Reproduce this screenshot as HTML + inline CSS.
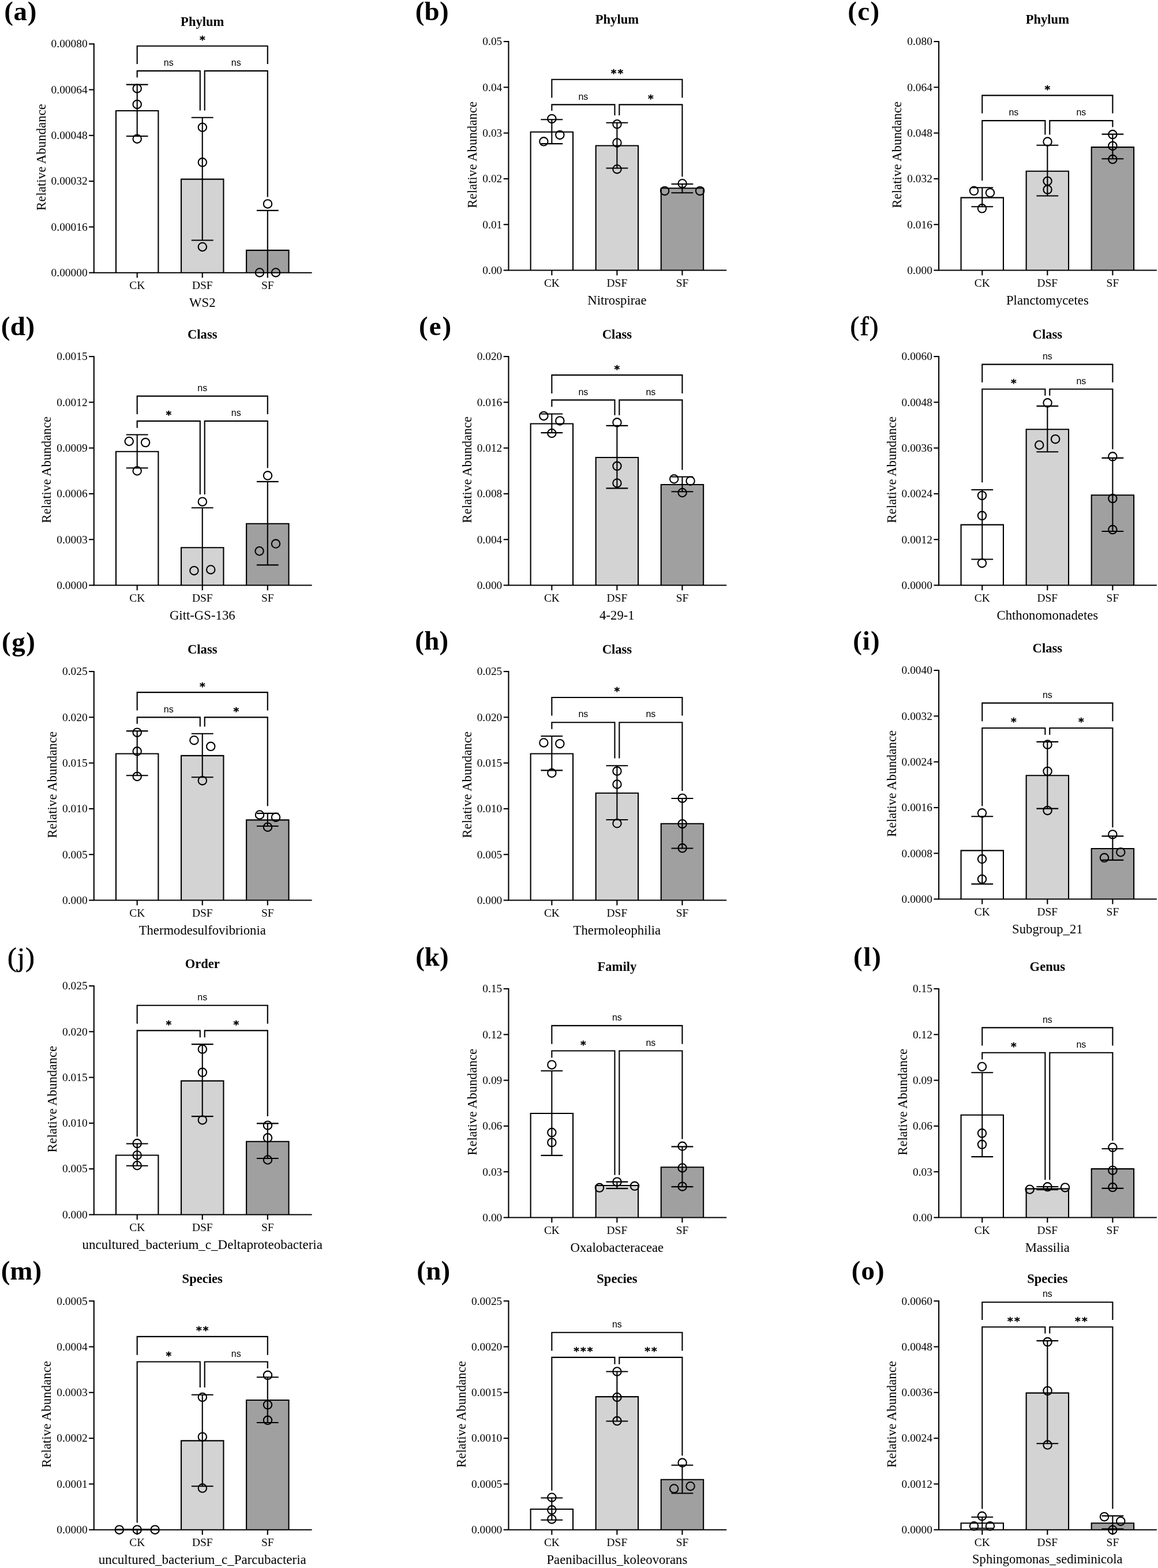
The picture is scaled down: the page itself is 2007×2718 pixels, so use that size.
<!DOCTYPE html>
<html lang="en">
<head>
<meta charset="utf-8">
<title>Relative abundance of differential taxa</title>
<style>
html,body{margin:0;padding:0;background:#fff;}
body{width:2007px;height:2718px;overflow:hidden;}
svg{display:block;}
text.s{font-family:"Liberation Serif", "Times New Roman", Times, serif;fill:#000;}
text.n{font-family:"Liberation Sans", Arial, Helvetica, sans-serif;fill:#000;}
text.st{font-family:"DejaVu Sans", "Liberation Sans", sans-serif;fill:#000;}
</style>
</head>
<body>
<svg width="2007" height="2718" viewBox="0 0 2007 2718">
<rect x="0" y="0" width="2007" height="2718" fill="#fff"/>
<g id="panel-a">
<text class="s" x="7.2" y="35" font-size="47" text-anchor="start" font-weight="bold" letter-spacing="0.7">(a)</text>
<text class="s" x="350.75" y="45" font-size="22.6" text-anchor="middle" font-weight="bold">Phylum</text>
<path d="M201 472.7V191.95H274.4V472.7" fill="#ffffff" stroke="#000" stroke-width="2.1" stroke-linejoin="miter"/>
<path d="M314.05 472.7V310.59H387.45V472.7" fill="#d3d3d3" stroke="#000" stroke-width="2.1" stroke-linejoin="miter"/>
<path d="M427.1 472.7V433.9H500.5V472.7" fill="#a0a0a0" stroke="#000" stroke-width="2.1" stroke-linejoin="miter"/>
<path d="M162.8 75.15V472.7H540.6" fill="none" stroke="#000" stroke-width="2.1" stroke-linejoin="miter"/>
<line x1="154.1" y1="472.7" x2="162.8" y2="472.7" stroke="#000" stroke-width="2.1" stroke-linecap="butt"/>
<text class="s" x="151.65" y="479" font-size="19.4" text-anchor="end">0.00000</text>
<line x1="154.1" y1="393.4" x2="162.8" y2="393.4" stroke="#000" stroke-width="2.1" stroke-linecap="butt"/>
<text class="s" x="151.65" y="400" font-size="19.4" text-anchor="end">0.00016</text>
<line x1="154.1" y1="314.1" x2="162.8" y2="314.1" stroke="#000" stroke-width="2.1" stroke-linecap="butt"/>
<text class="s" x="151.65" y="320" font-size="19.4" text-anchor="end">0.00032</text>
<line x1="154.1" y1="234.8" x2="162.8" y2="234.8" stroke="#000" stroke-width="2.1" stroke-linecap="butt"/>
<text class="s" x="151.65" y="241" font-size="19.4" text-anchor="end">0.00048</text>
<line x1="154.1" y1="155.5" x2="162.8" y2="155.5" stroke="#000" stroke-width="2.1" stroke-linecap="butt"/>
<text class="s" x="151.65" y="162" font-size="19.4" text-anchor="end">0.00064</text>
<line x1="154.1" y1="76.2" x2="162.8" y2="76.2" stroke="#000" stroke-width="2.1" stroke-linecap="butt"/>
<text class="s" x="151.65" y="82" font-size="19.4" text-anchor="end">0.00080</text>
<line x1="237.7" y1="472.7" x2="237.7" y2="481.5" stroke="#000" stroke-width="2.1" stroke-linecap="butt"/>
<text class="s" x="237.7" y="501" font-size="19.4" text-anchor="middle">CK</text>
<line x1="350.75" y1="472.7" x2="350.75" y2="481.5" stroke="#000" stroke-width="2.1" stroke-linecap="butt"/>
<text class="s" x="350.75" y="501" font-size="19.4" text-anchor="middle">DSF</text>
<line x1="463.8" y1="472.7" x2="463.8" y2="481.5" stroke="#000" stroke-width="2.1" stroke-linecap="butt"/>
<text class="s" x="463.8" y="501" font-size="19.4" text-anchor="middle">SF</text>
<text class="s" x="350.75" y="532" font-size="22.75" text-anchor="middle">WS2</text>
<text class="s" font-size="22.9" text-anchor="middle" transform="translate(78.7 272.45) rotate(-90)">Relative Abundance</text>
<line x1="237.7" y1="146.61" x2="237.7" y2="236.02" stroke="#000" stroke-width="2.1" stroke-linecap="butt"/>
<line x1="218.8" y1="146.61" x2="256.6" y2="146.61" stroke="#000" stroke-width="2.1" stroke-linecap="butt"/>
<line x1="218.8" y1="236.02" x2="256.6" y2="236.02" stroke="#000" stroke-width="2.1" stroke-linecap="butt"/>
<line x1="350.75" y1="203.81" x2="350.75" y2="416.53" stroke="#000" stroke-width="2.1" stroke-linecap="butt"/>
<line x1="331.85" y1="203.81" x2="369.65" y2="203.81" stroke="#000" stroke-width="2.1" stroke-linecap="butt"/>
<line x1="331.85" y1="416.53" x2="369.65" y2="416.53" stroke="#000" stroke-width="2.1" stroke-linecap="butt"/>
<line x1="463.8" y1="364.83" x2="463.8" y2="472.7" stroke="#000" stroke-width="2.1" stroke-linecap="butt"/>
<line x1="444.9" y1="364.83" x2="482.7" y2="364.83" stroke="#000" stroke-width="2.1" stroke-linecap="butt"/>
<circle cx="237.71" cy="153.39" r="7.2" fill="none" stroke="#000" stroke-width="2.1"/>
<circle cx="237.71" cy="180.93" r="7.2" fill="none" stroke="#000" stroke-width="2.1"/>
<circle cx="237.71" cy="240.68" r="7.2" fill="none" stroke="#000" stroke-width="2.1"/>
<circle cx="350.85" cy="220.76" r="7.2" fill="none" stroke="#000" stroke-width="2.1"/>
<circle cx="350.85" cy="281.36" r="7.2" fill="none" stroke="#000" stroke-width="2.1"/>
<circle cx="350.85" cy="427.97" r="7.2" fill="none" stroke="#000" stroke-width="2.1"/>
<circle cx="463.98" cy="353.39" r="7.2" fill="none" stroke="#000" stroke-width="2.1"/>
<circle cx="450" cy="472.46" r="7.2" fill="none" stroke="#000" stroke-width="2.1"/>
<circle cx="477.97" cy="472.46" r="7.2" fill="none" stroke="#000" stroke-width="2.1"/>
<path d="M237.7 111.02V79.79H463.8V111.02" fill="none" stroke="#000" stroke-width="2.1" stroke-linejoin="miter"/>
<path d="M237.7 134.32V122.88H346.8V191.53" fill="none" stroke="#000" stroke-width="2.1" stroke-linejoin="miter"/>
<path d="M354.7 191.53V122.88H463.8V341.53" fill="none" stroke="#000" stroke-width="2.1" stroke-linejoin="miter"/>
<text class="st" x="351.8" y="75" font-size="18.5" text-anchor="middle" font-weight="bold" stroke="#000" stroke-width="0.45" letter-spacing="2.1">*</text>
<text class="n" x="292.25" y="114" font-size="16" text-anchor="middle">ns</text>
<text class="n" x="409.25" y="114" font-size="16" text-anchor="middle">ns</text>
</g>
<g id="panel-b">
<text class="s" x="719.7" y="35" font-size="47" text-anchor="start" font-weight="bold" letter-spacing="0.2">(b)</text>
<text class="s" x="1069.4" y="41" font-size="22.6" text-anchor="middle" font-weight="bold">Phylum</text>
<path d="M919.65 468.5V228.81H993.05V468.5" fill="#ffffff" stroke="#000" stroke-width="2.1" stroke-linejoin="miter"/>
<path d="M1032.7 468.5V252.54H1106.1V468.5" fill="#d3d3d3" stroke="#000" stroke-width="2.1" stroke-linejoin="miter"/>
<path d="M1145.75 468.5V326.27H1219.15V468.5" fill="#a0a0a0" stroke="#000" stroke-width="2.1" stroke-linejoin="miter"/>
<path d="M881.45 70.95V468.5H1259.25" fill="none" stroke="#000" stroke-width="2.1" stroke-linejoin="miter"/>
<line x1="872.75" y1="468.5" x2="881.45" y2="468.5" stroke="#000" stroke-width="2.1" stroke-linecap="butt"/>
<text class="s" x="870.3" y="475" font-size="19.4" text-anchor="end">0.00</text>
<line x1="872.75" y1="389.2" x2="881.45" y2="389.2" stroke="#000" stroke-width="2.1" stroke-linecap="butt"/>
<text class="s" x="870.3" y="396" font-size="19.4" text-anchor="end">0.01</text>
<line x1="872.75" y1="309.9" x2="881.45" y2="309.9" stroke="#000" stroke-width="2.1" stroke-linecap="butt"/>
<text class="s" x="870.3" y="316" font-size="19.4" text-anchor="end">0.02</text>
<line x1="872.75" y1="230.6" x2="881.45" y2="230.6" stroke="#000" stroke-width="2.1" stroke-linecap="butt"/>
<text class="s" x="870.3" y="237" font-size="19.4" text-anchor="end">0.03</text>
<line x1="872.75" y1="151.3" x2="881.45" y2="151.3" stroke="#000" stroke-width="2.1" stroke-linecap="butt"/>
<text class="s" x="870.3" y="158" font-size="19.4" text-anchor="end">0.04</text>
<line x1="872.75" y1="72" x2="881.45" y2="72" stroke="#000" stroke-width="2.1" stroke-linecap="butt"/>
<text class="s" x="870.3" y="78" font-size="19.4" text-anchor="end">0.05</text>
<line x1="956.35" y1="468.5" x2="956.35" y2="477.3" stroke="#000" stroke-width="2.1" stroke-linecap="butt"/>
<text class="s" x="956.35" y="497" font-size="19.4" text-anchor="middle">CK</text>
<line x1="1069.4" y1="468.5" x2="1069.4" y2="477.3" stroke="#000" stroke-width="2.1" stroke-linecap="butt"/>
<text class="s" x="1069.4" y="497" font-size="19.4" text-anchor="middle">DSF</text>
<line x1="1182.45" y1="468.5" x2="1182.45" y2="477.3" stroke="#000" stroke-width="2.1" stroke-linecap="butt"/>
<text class="s" x="1182.45" y="497" font-size="19.4" text-anchor="middle">SF</text>
<text class="s" x="1069.4" y="528" font-size="22.75" text-anchor="middle">Nitrospirae</text>
<text class="s" font-size="22.9" text-anchor="middle" transform="translate(826.45 268.25) rotate(-90)">Relative Abundance</text>
<line x1="956.35" y1="207.2" x2="956.35" y2="249.15" stroke="#000" stroke-width="2.1" stroke-linecap="butt"/>
<line x1="937.45" y1="207.2" x2="975.25" y2="207.2" stroke="#000" stroke-width="2.1" stroke-linecap="butt"/>
<line x1="937.45" y1="249.15" x2="975.25" y2="249.15" stroke="#000" stroke-width="2.1" stroke-linecap="butt"/>
<line x1="1069.4" y1="212.71" x2="1069.4" y2="291.53" stroke="#000" stroke-width="2.1" stroke-linecap="butt"/>
<line x1="1050.5" y1="212.71" x2="1088.3" y2="212.71" stroke="#000" stroke-width="2.1" stroke-linecap="butt"/>
<line x1="1050.5" y1="291.53" x2="1088.3" y2="291.53" stroke="#000" stroke-width="2.1" stroke-linecap="butt"/>
<line x1="1182.45" y1="319.07" x2="1182.45" y2="334.32" stroke="#000" stroke-width="2.1" stroke-linecap="butt"/>
<line x1="1163.55" y1="319.07" x2="1201.35" y2="319.07" stroke="#000" stroke-width="2.1" stroke-linecap="butt"/>
<line x1="1163.55" y1="334.32" x2="1201.35" y2="334.32" stroke="#000" stroke-width="2.1" stroke-linecap="butt"/>
<circle cx="956.36" cy="205.93" r="7.2" fill="none" stroke="#000" stroke-width="2.1"/>
<circle cx="970.34" cy="233.9" r="7.2" fill="none" stroke="#000" stroke-width="2.1"/>
<circle cx="942.37" cy="245.34" r="7.2" fill="none" stroke="#000" stroke-width="2.1"/>
<circle cx="1069.49" cy="215.25" r="7.2" fill="none" stroke="#000" stroke-width="2.1"/>
<circle cx="1069.49" cy="247.46" r="7.2" fill="none" stroke="#000" stroke-width="2.1"/>
<circle cx="1069.49" cy="293.22" r="7.2" fill="none" stroke="#000" stroke-width="2.1"/>
<circle cx="1182.63" cy="318.22" r="7.2" fill="none" stroke="#000" stroke-width="2.1"/>
<circle cx="1152.12" cy="330.93" r="7.2" fill="none" stroke="#000" stroke-width="2.1"/>
<circle cx="1213.14" cy="330.93" r="7.2" fill="none" stroke="#000" stroke-width="2.1"/>
<path d="M956.35 169.49V137.71H1182.45V169.49" fill="none" stroke="#000" stroke-width="2.1" stroke-linejoin="miter"/>
<path d="M956.35 191.95V181.36H1065.45V200" fill="none" stroke="#000" stroke-width="2.1" stroke-linejoin="miter"/>
<path d="M1073.35 200V181.36H1182.45V306.36" fill="none" stroke="#000" stroke-width="2.1" stroke-linejoin="miter"/>
<text class="st" x="1070.45" y="133" font-size="18.5" text-anchor="middle" font-weight="bold" stroke="#000" stroke-width="0.45" letter-spacing="2.1">**</text>
<text class="n" x="1010.9" y="173" font-size="16" text-anchor="middle">ns</text>
<text class="st" x="1128.95" y="177" font-size="18.5" text-anchor="middle" font-weight="bold" stroke="#000" stroke-width="0.45" letter-spacing="2.1">*</text>
</g>
<g id="panel-c">
<text class="s" x="1469.3" y="35" font-size="47" text-anchor="start" font-weight="bold" letter-spacing="1.3">(c)</text>
<text class="s" x="1815.35" y="41" font-size="22.6" text-anchor="middle" font-weight="bold">Phylum</text>
<path d="M1665.6 468.5V342.61H1739V468.5" fill="#ffffff" stroke="#000" stroke-width="2.1" stroke-linejoin="miter"/>
<path d="M1778.65 468.5V296.68H1852.05V468.5" fill="#d3d3d3" stroke="#000" stroke-width="2.1" stroke-linejoin="miter"/>
<path d="M1891.7 468.5V255.16H1965.1V468.5" fill="#a0a0a0" stroke="#000" stroke-width="2.1" stroke-linejoin="miter"/>
<path d="M1627.1 70.95V468.5H2004.9" fill="none" stroke="#000" stroke-width="2.1" stroke-linejoin="miter"/>
<line x1="1618.4" y1="468.5" x2="1627.1" y2="468.5" stroke="#000" stroke-width="2.1" stroke-linecap="butt"/>
<text class="s" x="1615.95" y="475" font-size="19.4" text-anchor="end">0.000</text>
<line x1="1618.4" y1="389.2" x2="1627.1" y2="389.2" stroke="#000" stroke-width="2.1" stroke-linecap="butt"/>
<text class="s" x="1615.95" y="396" font-size="19.4" text-anchor="end">0.016</text>
<line x1="1618.4" y1="309.9" x2="1627.1" y2="309.9" stroke="#000" stroke-width="2.1" stroke-linecap="butt"/>
<text class="s" x="1615.95" y="316" font-size="19.4" text-anchor="end">0.032</text>
<line x1="1618.4" y1="230.6" x2="1627.1" y2="230.6" stroke="#000" stroke-width="2.1" stroke-linecap="butt"/>
<text class="s" x="1615.95" y="237" font-size="19.4" text-anchor="end">0.048</text>
<line x1="1618.4" y1="151.3" x2="1627.1" y2="151.3" stroke="#000" stroke-width="2.1" stroke-linecap="butt"/>
<text class="s" x="1615.95" y="158" font-size="19.4" text-anchor="end">0.064</text>
<line x1="1618.4" y1="72" x2="1627.1" y2="72" stroke="#000" stroke-width="2.1" stroke-linecap="butt"/>
<text class="s" x="1615.95" y="78" font-size="19.4" text-anchor="end">0.080</text>
<line x1="1702.3" y1="468.5" x2="1702.3" y2="477.3" stroke="#000" stroke-width="2.1" stroke-linecap="butt"/>
<text class="s" x="1702.3" y="497" font-size="19.4" text-anchor="middle">CK</text>
<line x1="1815.35" y1="468.5" x2="1815.35" y2="477.3" stroke="#000" stroke-width="2.1" stroke-linecap="butt"/>
<text class="s" x="1815.35" y="497" font-size="19.4" text-anchor="middle">DSF</text>
<line x1="1928.4" y1="468.5" x2="1928.4" y2="477.3" stroke="#000" stroke-width="2.1" stroke-linecap="butt"/>
<text class="s" x="1928.4" y="497" font-size="19.4" text-anchor="middle">SF</text>
<text class="s" x="1815.35" y="528" font-size="22.75" text-anchor="middle">Planctomycetes</text>
<text class="s" font-size="22.9" text-anchor="middle" transform="translate(1562.4 268.25) rotate(-90)">Relative Abundance</text>
<line x1="1702.3" y1="325.21" x2="1702.3" y2="358.28" stroke="#000" stroke-width="2.1" stroke-linecap="butt"/>
<line x1="1683.4" y1="325.21" x2="1721.2" y2="325.21" stroke="#000" stroke-width="2.1" stroke-linecap="butt"/>
<line x1="1683.4" y1="358.28" x2="1721.2" y2="358.28" stroke="#000" stroke-width="2.1" stroke-linecap="butt"/>
<line x1="1815.35" y1="251.72" x2="1815.35" y2="339.54" stroke="#000" stroke-width="2.1" stroke-linecap="butt"/>
<line x1="1796.45" y1="251.72" x2="1834.25" y2="251.72" stroke="#000" stroke-width="2.1" stroke-linecap="butt"/>
<line x1="1796.45" y1="339.54" x2="1834.25" y2="339.54" stroke="#000" stroke-width="2.1" stroke-linecap="butt"/>
<line x1="1928.4" y1="232.62" x2="1928.4" y2="275.24" stroke="#000" stroke-width="2.1" stroke-linecap="butt"/>
<line x1="1909.5" y1="232.62" x2="1947.3" y2="232.62" stroke="#000" stroke-width="2.1" stroke-linecap="butt"/>
<line x1="1909.5" y1="275.24" x2="1947.3" y2="275.24" stroke="#000" stroke-width="2.1" stroke-linecap="butt"/>
<circle cx="1688.07" cy="330.82" r="7.2" fill="none" stroke="#000" stroke-width="2.1"/>
<circle cx="1715.99" cy="334.13" r="7.2" fill="none" stroke="#000" stroke-width="2.1"/>
<circle cx="1702.03" cy="361.32" r="7.2" fill="none" stroke="#000" stroke-width="2.1"/>
<circle cx="1815.57" cy="245.58" r="7.2" fill="none" stroke="#000" stroke-width="2.1"/>
<circle cx="1815.57" cy="313.92" r="7.2" fill="none" stroke="#000" stroke-width="2.1"/>
<circle cx="1815.57" cy="328.62" r="7.2" fill="none" stroke="#000" stroke-width="2.1"/>
<circle cx="1928.37" cy="233.09" r="7.2" fill="none" stroke="#000" stroke-width="2.1"/>
<circle cx="1928.37" cy="252.93" r="7.2" fill="none" stroke="#000" stroke-width="2.1"/>
<circle cx="1928.37" cy="276.08" r="7.2" fill="none" stroke="#000" stroke-width="2.1"/>
<path d="M1702.3 196.58V165.35H1928.4V196.58" fill="none" stroke="#000" stroke-width="2.1" stroke-linejoin="miter"/>
<path d="M1702.3 313.12V209.13H1811.4V233.39" fill="none" stroke="#000" stroke-width="2.1" stroke-linejoin="miter"/>
<path d="M1819.3 233.39V209.13H1928.4V220.16" fill="none" stroke="#000" stroke-width="2.1" stroke-linejoin="miter"/>
<text class="st" x="1816.4" y="161" font-size="18.5" text-anchor="middle" font-weight="bold" stroke="#000" stroke-width="0.45" letter-spacing="2.1">*</text>
<text class="n" x="1756.85" y="200" font-size="16" text-anchor="middle">ns</text>
<text class="n" x="1873.85" y="200" font-size="16" text-anchor="middle">ns</text>
</g>
<g id="panel-d">
<text class="s" x="1.7" y="581" font-size="47" text-anchor="start" font-weight="bold" letter-spacing="0.5">(d)</text>
<text class="s" x="350.75" y="587" font-size="22.6" text-anchor="middle" font-weight="bold">Class</text>
<path d="M201 1014.5V782.8H274.4V1014.5" fill="#ffffff" stroke="#000" stroke-width="2.1" stroke-linejoin="miter"/>
<path d="M314.05 1014.5V949.32H387.45V1014.5" fill="#d3d3d3" stroke="#000" stroke-width="2.1" stroke-linejoin="miter"/>
<path d="M427.1 1014.5V907.8H500.5V1014.5" fill="#a0a0a0" stroke="#000" stroke-width="2.1" stroke-linejoin="miter"/>
<path d="M162.8 616.95V1014.5H540.6" fill="none" stroke="#000" stroke-width="2.1" stroke-linejoin="miter"/>
<line x1="154.1" y1="1014.5" x2="162.8" y2="1014.5" stroke="#000" stroke-width="2.1" stroke-linecap="butt"/>
<text class="s" x="151.65" y="1021" font-size="19.4" text-anchor="end">0.0000</text>
<line x1="154.1" y1="935.2" x2="162.8" y2="935.2" stroke="#000" stroke-width="2.1" stroke-linecap="butt"/>
<text class="s" x="151.65" y="942" font-size="19.4" text-anchor="end">0.0003</text>
<line x1="154.1" y1="855.9" x2="162.8" y2="855.9" stroke="#000" stroke-width="2.1" stroke-linecap="butt"/>
<text class="s" x="151.65" y="862" font-size="19.4" text-anchor="end">0.0006</text>
<line x1="154.1" y1="776.6" x2="162.8" y2="776.6" stroke="#000" stroke-width="2.1" stroke-linecap="butt"/>
<text class="s" x="151.65" y="783" font-size="19.4" text-anchor="end">0.0009</text>
<line x1="154.1" y1="697.3" x2="162.8" y2="697.3" stroke="#000" stroke-width="2.1" stroke-linecap="butt"/>
<text class="s" x="151.65" y="704" font-size="19.4" text-anchor="end">0.0012</text>
<line x1="154.1" y1="618" x2="162.8" y2="618" stroke="#000" stroke-width="2.1" stroke-linecap="butt"/>
<text class="s" x="151.65" y="624" font-size="19.4" text-anchor="end">0.0015</text>
<line x1="237.7" y1="1014.5" x2="237.7" y2="1023.3" stroke="#000" stroke-width="2.1" stroke-linecap="butt"/>
<text class="s" x="237.7" y="1043" font-size="19.4" text-anchor="middle">CK</text>
<line x1="350.75" y1="1014.5" x2="350.75" y2="1023.3" stroke="#000" stroke-width="2.1" stroke-linecap="butt"/>
<text class="s" x="350.75" y="1043" font-size="19.4" text-anchor="middle">DSF</text>
<line x1="463.8" y1="1014.5" x2="463.8" y2="1023.3" stroke="#000" stroke-width="2.1" stroke-linecap="butt"/>
<text class="s" x="463.8" y="1043" font-size="19.4" text-anchor="middle">SF</text>
<text class="s" x="350.75" y="1074" font-size="22.75" text-anchor="middle">Gitt-GS-136</text>
<text class="s" font-size="22.9" text-anchor="middle" transform="translate(88.4 814.25) rotate(-90)">Relative Abundance</text>
<line x1="237.7" y1="753.56" x2="237.7" y2="811.19" stroke="#000" stroke-width="2.1" stroke-linecap="butt"/>
<line x1="218.8" y1="753.56" x2="256.6" y2="753.56" stroke="#000" stroke-width="2.1" stroke-linecap="butt"/>
<line x1="218.8" y1="811.19" x2="256.6" y2="811.19" stroke="#000" stroke-width="2.1" stroke-linecap="butt"/>
<line x1="350.75" y1="880.25" x2="350.75" y2="1014.5" stroke="#000" stroke-width="2.1" stroke-linecap="butt"/>
<line x1="331.85" y1="880.25" x2="369.65" y2="880.25" stroke="#000" stroke-width="2.1" stroke-linecap="butt"/>
<line x1="463.8" y1="834.92" x2="463.8" y2="979.41" stroke="#000" stroke-width="2.1" stroke-linecap="butt"/>
<line x1="444.9" y1="834.92" x2="482.7" y2="834.92" stroke="#000" stroke-width="2.1" stroke-linecap="butt"/>
<line x1="444.9" y1="979.41" x2="482.7" y2="979.41" stroke="#000" stroke-width="2.1" stroke-linecap="butt"/>
<circle cx="223.73" cy="765" r="7.2" fill="none" stroke="#000" stroke-width="2.1"/>
<circle cx="252.12" cy="767.12" r="7.2" fill="none" stroke="#000" stroke-width="2.1"/>
<circle cx="237.71" cy="816.27" r="7.2" fill="none" stroke="#000" stroke-width="2.1"/>
<circle cx="350.85" cy="869.66" r="7.2" fill="none" stroke="#000" stroke-width="2.1"/>
<circle cx="336.44" cy="989.15" r="7.2" fill="none" stroke="#000" stroke-width="2.1"/>
<circle cx="365.25" cy="987.46" r="7.2" fill="none" stroke="#000" stroke-width="2.1"/>
<circle cx="463.98" cy="824.32" r="7.2" fill="none" stroke="#000" stroke-width="2.1"/>
<circle cx="477.97" cy="942.54" r="7.2" fill="none" stroke="#000" stroke-width="2.1"/>
<circle cx="449.58" cy="955.25" r="7.2" fill="none" stroke="#000" stroke-width="2.1"/>
<path d="M237.7 717.97V686.61H463.8V717.97" fill="none" stroke="#000" stroke-width="2.1" stroke-linejoin="miter"/>
<path d="M237.7 741.69V729.83H346.8V856.95" fill="none" stroke="#000" stroke-width="2.1" stroke-linejoin="miter"/>
<path d="M354.7 856.95V729.83H463.8V811.19" fill="none" stroke="#000" stroke-width="2.1" stroke-linejoin="miter"/>
<text class="n" x="350.75" y="678" font-size="16" text-anchor="middle">ns</text>
<text class="st" x="293.3" y="725" font-size="18.5" text-anchor="middle" font-weight="bold" stroke="#000" stroke-width="0.45" letter-spacing="2.1">*</text>
<text class="n" x="409.25" y="721" font-size="16" text-anchor="middle">ns</text>
</g>
<g id="panel-e">
<text class="s" x="726.1" y="581" font-size="47" text-anchor="start" font-weight="bold" letter-spacing="2">(e)</text>
<text class="s" x="1069.4" y="587" font-size="22.6" text-anchor="middle" font-weight="bold">Class</text>
<path d="M919.65 1014.5V734.49H993.05V1014.5" fill="#ffffff" stroke="#000" stroke-width="2.1" stroke-linejoin="miter"/>
<path d="M1032.7 1014.5V792.97H1106.1V1014.5" fill="#d3d3d3" stroke="#000" stroke-width="2.1" stroke-linejoin="miter"/>
<path d="M1145.75 1014.5V840H1219.15V1014.5" fill="#a0a0a0" stroke="#000" stroke-width="2.1" stroke-linejoin="miter"/>
<path d="M881.45 616.95V1014.5H1259.25" fill="none" stroke="#000" stroke-width="2.1" stroke-linejoin="miter"/>
<line x1="872.75" y1="1014.5" x2="881.45" y2="1014.5" stroke="#000" stroke-width="2.1" stroke-linecap="butt"/>
<text class="s" x="870.3" y="1021" font-size="19.4" text-anchor="end">0.000</text>
<line x1="872.75" y1="935.2" x2="881.45" y2="935.2" stroke="#000" stroke-width="2.1" stroke-linecap="butt"/>
<text class="s" x="870.3" y="942" font-size="19.4" text-anchor="end">0.004</text>
<line x1="872.75" y1="855.9" x2="881.45" y2="855.9" stroke="#000" stroke-width="2.1" stroke-linecap="butt"/>
<text class="s" x="870.3" y="862" font-size="19.4" text-anchor="end">0.008</text>
<line x1="872.75" y1="776.6" x2="881.45" y2="776.6" stroke="#000" stroke-width="2.1" stroke-linecap="butt"/>
<text class="s" x="870.3" y="783" font-size="19.4" text-anchor="end">0.012</text>
<line x1="872.75" y1="697.3" x2="881.45" y2="697.3" stroke="#000" stroke-width="2.1" stroke-linecap="butt"/>
<text class="s" x="870.3" y="704" font-size="19.4" text-anchor="end">0.016</text>
<line x1="872.75" y1="618" x2="881.45" y2="618" stroke="#000" stroke-width="2.1" stroke-linecap="butt"/>
<text class="s" x="870.3" y="624" font-size="19.4" text-anchor="end">0.020</text>
<line x1="956.35" y1="1014.5" x2="956.35" y2="1023.3" stroke="#000" stroke-width="2.1" stroke-linecap="butt"/>
<text class="s" x="956.35" y="1043" font-size="19.4" text-anchor="middle">CK</text>
<line x1="1069.4" y1="1014.5" x2="1069.4" y2="1023.3" stroke="#000" stroke-width="2.1" stroke-linecap="butt"/>
<text class="s" x="1069.4" y="1043" font-size="19.4" text-anchor="middle">DSF</text>
<line x1="1182.45" y1="1014.5" x2="1182.45" y2="1023.3" stroke="#000" stroke-width="2.1" stroke-linecap="butt"/>
<text class="s" x="1182.45" y="1043" font-size="19.4" text-anchor="middle">SF</text>
<text class="s" x="1069.4" y="1074" font-size="22.75" text-anchor="middle">4-29-1</text>
<text class="s" font-size="22.9" text-anchor="middle" transform="translate(816.75 814.25) rotate(-90)">Relative Abundance</text>
<line x1="956.35" y1="717.54" x2="956.35" y2="750.17" stroke="#000" stroke-width="2.1" stroke-linecap="butt"/>
<line x1="937.45" y1="717.54" x2="975.25" y2="717.54" stroke="#000" stroke-width="2.1" stroke-linecap="butt"/>
<line x1="937.45" y1="750.17" x2="975.25" y2="750.17" stroke="#000" stroke-width="2.1" stroke-linecap="butt"/>
<line x1="1069.4" y1="737.88" x2="1069.4" y2="846.36" stroke="#000" stroke-width="2.1" stroke-linecap="butt"/>
<line x1="1050.5" y1="737.88" x2="1088.3" y2="737.88" stroke="#000" stroke-width="2.1" stroke-linecap="butt"/>
<line x1="1050.5" y1="846.36" x2="1088.3" y2="846.36" stroke="#000" stroke-width="2.1" stroke-linecap="butt"/>
<line x1="1182.45" y1="826.44" x2="1182.45" y2="852.29" stroke="#000" stroke-width="2.1" stroke-linecap="butt"/>
<line x1="1163.55" y1="826.44" x2="1201.35" y2="826.44" stroke="#000" stroke-width="2.1" stroke-linecap="butt"/>
<line x1="1163.55" y1="852.29" x2="1201.35" y2="852.29" stroke="#000" stroke-width="2.1" stroke-linecap="butt"/>
<circle cx="942.37" cy="720.93" r="7.2" fill="none" stroke="#000" stroke-width="2.1"/>
<circle cx="970.34" cy="729.41" r="7.2" fill="none" stroke="#000" stroke-width="2.1"/>
<circle cx="956.36" cy="751.02" r="7.2" fill="none" stroke="#000" stroke-width="2.1"/>
<circle cx="1069.49" cy="732.37" r="7.2" fill="none" stroke="#000" stroke-width="2.1"/>
<circle cx="1069.49" cy="807.8" r="7.2" fill="none" stroke="#000" stroke-width="2.1"/>
<circle cx="1069.49" cy="837.46" r="7.2" fill="none" stroke="#000" stroke-width="2.1"/>
<circle cx="1168.22" cy="830.25" r="7.2" fill="none" stroke="#000" stroke-width="2.1"/>
<circle cx="1196.61" cy="833.64" r="7.2" fill="none" stroke="#000" stroke-width="2.1"/>
<circle cx="1182.63" cy="853.98" r="7.2" fill="none" stroke="#000" stroke-width="2.1"/>
<path d="M956.35 681.95V650.17H1182.45V681.95" fill="none" stroke="#000" stroke-width="2.1" stroke-linejoin="miter"/>
<path d="M956.35 705.25V693.39H1065.45V719.66" fill="none" stroke="#000" stroke-width="2.1" stroke-linejoin="miter"/>
<path d="M1073.35 719.66V693.39H1182.45V814.58" fill="none" stroke="#000" stroke-width="2.1" stroke-linejoin="miter"/>
<text class="st" x="1070.45" y="646" font-size="18.5" text-anchor="middle" font-weight="bold" stroke="#000" stroke-width="0.45" letter-spacing="2.1">*</text>
<text class="n" x="1010.9" y="685" font-size="16" text-anchor="middle">ns</text>
<text class="n" x="1127.9" y="685" font-size="16" text-anchor="middle">ns</text>
</g>
<g id="panel-f">
<text class="s" x="1473.6" y="581" font-size="47" text-anchor="start" letter-spacing="0.9" stroke="#000" stroke-width="0.7">(f)</text>
<text class="s" x="1815.35" y="587" font-size="22.6" text-anchor="middle" font-weight="bold">Class</text>
<path d="M1665.6 1014.5V909.64H1739V1014.5" fill="#ffffff" stroke="#000" stroke-width="2.1" stroke-linejoin="miter"/>
<path d="M1778.65 1014.5V744.29H1852.05V1014.5" fill="#d3d3d3" stroke="#000" stroke-width="2.1" stroke-linejoin="miter"/>
<path d="M1891.7 1014.5V858.2H1965.1V1014.5" fill="#a0a0a0" stroke="#000" stroke-width="2.1" stroke-linejoin="miter"/>
<path d="M1627.1 616.95V1014.5H2004.9" fill="none" stroke="#000" stroke-width="2.1" stroke-linejoin="miter"/>
<line x1="1618.4" y1="1014.5" x2="1627.1" y2="1014.5" stroke="#000" stroke-width="2.1" stroke-linecap="butt"/>
<text class="s" x="1615.95" y="1021" font-size="19.4" text-anchor="end">0.0000</text>
<line x1="1618.4" y1="935.2" x2="1627.1" y2="935.2" stroke="#000" stroke-width="2.1" stroke-linecap="butt"/>
<text class="s" x="1615.95" y="942" font-size="19.4" text-anchor="end">0.0012</text>
<line x1="1618.4" y1="855.9" x2="1627.1" y2="855.9" stroke="#000" stroke-width="2.1" stroke-linecap="butt"/>
<text class="s" x="1615.95" y="862" font-size="19.4" text-anchor="end">0.0024</text>
<line x1="1618.4" y1="776.6" x2="1627.1" y2="776.6" stroke="#000" stroke-width="2.1" stroke-linecap="butt"/>
<text class="s" x="1615.95" y="783" font-size="19.4" text-anchor="end">0.0036</text>
<line x1="1618.4" y1="697.3" x2="1627.1" y2="697.3" stroke="#000" stroke-width="2.1" stroke-linecap="butt"/>
<text class="s" x="1615.95" y="704" font-size="19.4" text-anchor="end">0.0048</text>
<line x1="1618.4" y1="618" x2="1627.1" y2="618" stroke="#000" stroke-width="2.1" stroke-linecap="butt"/>
<text class="s" x="1615.95" y="624" font-size="19.4" text-anchor="end">0.0060</text>
<line x1="1702.3" y1="1014.5" x2="1702.3" y2="1023.3" stroke="#000" stroke-width="2.1" stroke-linecap="butt"/>
<text class="s" x="1702.3" y="1043" font-size="19.4" text-anchor="middle">CK</text>
<line x1="1815.35" y1="1014.5" x2="1815.35" y2="1023.3" stroke="#000" stroke-width="2.1" stroke-linecap="butt"/>
<text class="s" x="1815.35" y="1043" font-size="19.4" text-anchor="middle">DSF</text>
<line x1="1928.4" y1="1014.5" x2="1928.4" y2="1023.3" stroke="#000" stroke-width="2.1" stroke-linecap="butt"/>
<text class="s" x="1928.4" y="1043" font-size="19.4" text-anchor="middle">SF</text>
<text class="s" x="1815.35" y="1074" font-size="22.75" text-anchor="middle">Chthonomonadetes</text>
<text class="s" font-size="22.9" text-anchor="middle" transform="translate(1552.7 814.25) rotate(-90)">Relative Abundance</text>
<line x1="1702.3" y1="849.01" x2="1702.3" y2="969.53" stroke="#000" stroke-width="2.1" stroke-linecap="butt"/>
<line x1="1683.4" y1="849.01" x2="1721.2" y2="849.01" stroke="#000" stroke-width="2.1" stroke-linecap="butt"/>
<line x1="1683.4" y1="969.53" x2="1721.2" y2="969.53" stroke="#000" stroke-width="2.1" stroke-linecap="butt"/>
<line x1="1815.35" y1="703.88" x2="1815.35" y2="783.24" stroke="#000" stroke-width="2.1" stroke-linecap="butt"/>
<line x1="1796.45" y1="703.88" x2="1834.25" y2="703.88" stroke="#000" stroke-width="2.1" stroke-linecap="butt"/>
<line x1="1796.45" y1="783.24" x2="1834.25" y2="783.24" stroke="#000" stroke-width="2.1" stroke-linecap="butt"/>
<line x1="1928.4" y1="793.9" x2="1928.4" y2="921.03" stroke="#000" stroke-width="2.1" stroke-linecap="butt"/>
<line x1="1909.5" y1="793.9" x2="1947.3" y2="793.9" stroke="#000" stroke-width="2.1" stroke-linecap="butt"/>
<line x1="1909.5" y1="921.03" x2="1947.3" y2="921.03" stroke="#000" stroke-width="2.1" stroke-linecap="butt"/>
<circle cx="1702.03" cy="858.93" r="7.2" fill="none" stroke="#000" stroke-width="2.1"/>
<circle cx="1702.03" cy="893.84" r="7.2" fill="none" stroke="#000" stroke-width="2.1"/>
<circle cx="1702.03" cy="976.14" r="7.2" fill="none" stroke="#000" stroke-width="2.1"/>
<circle cx="1815.57" cy="698.36" r="7.2" fill="none" stroke="#000" stroke-width="2.1"/>
<circle cx="1829.16" cy="761.19" r="7.2" fill="none" stroke="#000" stroke-width="2.1"/>
<circle cx="1801.24" cy="771.48" r="7.2" fill="none" stroke="#000" stroke-width="2.1"/>
<circle cx="1928.37" cy="791.32" r="7.2" fill="none" stroke="#000" stroke-width="2.1"/>
<circle cx="1928.37" cy="864.08" r="7.2" fill="none" stroke="#000" stroke-width="2.1"/>
<circle cx="1928.37" cy="918.09" r="7.2" fill="none" stroke="#000" stroke-width="2.1"/>
<path d="M1702.3 662.79V631.59H1928.4V662.79" fill="none" stroke="#000" stroke-width="2.1" stroke-linejoin="miter"/>
<path d="M1702.3 836.15V674.48H1811.4V685.87" fill="none" stroke="#000" stroke-width="2.1" stroke-linejoin="miter"/>
<path d="M1819.3 685.87V674.48H1928.4V778.83" fill="none" stroke="#000" stroke-width="2.1" stroke-linejoin="miter"/>
<text class="n" x="1815.35" y="623" font-size="16" text-anchor="middle">ns</text>
<text class="st" x="1757.9" y="670" font-size="18.5" text-anchor="middle" font-weight="bold" stroke="#000" stroke-width="0.45" letter-spacing="2.1">*</text>
<text class="n" x="1873.85" y="666" font-size="16" text-anchor="middle">ns</text>
</g>
<g id="panel-g">
<text class="s" x="3" y="1128" font-size="47" text-anchor="start" font-weight="bold" letter-spacing="1.5">(g)</text>
<text class="s" x="350.75" y="1133" font-size="22.6" text-anchor="middle" font-weight="bold">Class</text>
<path d="M201 1560.5V1306.53H274.4V1560.5" fill="#ffffff" stroke="#000" stroke-width="2.1" stroke-linejoin="miter"/>
<path d="M314.05 1560.5V1309.92H387.45V1560.5" fill="#d3d3d3" stroke="#000" stroke-width="2.1" stroke-linejoin="miter"/>
<path d="M427.1 1560.5V1421.36H500.5V1560.5" fill="#a0a0a0" stroke="#000" stroke-width="2.1" stroke-linejoin="miter"/>
<path d="M162.8 1162.95V1560.5H540.6" fill="none" stroke="#000" stroke-width="2.1" stroke-linejoin="miter"/>
<line x1="154.1" y1="1560.5" x2="162.8" y2="1560.5" stroke="#000" stroke-width="2.1" stroke-linecap="butt"/>
<text class="s" x="151.65" y="1567" font-size="19.4" text-anchor="end">0.000</text>
<line x1="154.1" y1="1481.2" x2="162.8" y2="1481.2" stroke="#000" stroke-width="2.1" stroke-linecap="butt"/>
<text class="s" x="151.65" y="1488" font-size="19.4" text-anchor="end">0.005</text>
<line x1="154.1" y1="1401.9" x2="162.8" y2="1401.9" stroke="#000" stroke-width="2.1" stroke-linecap="butt"/>
<text class="s" x="151.65" y="1408" font-size="19.4" text-anchor="end">0.010</text>
<line x1="154.1" y1="1322.6" x2="162.8" y2="1322.6" stroke="#000" stroke-width="2.1" stroke-linecap="butt"/>
<text class="s" x="151.65" y="1329" font-size="19.4" text-anchor="end">0.015</text>
<line x1="154.1" y1="1243.3" x2="162.8" y2="1243.3" stroke="#000" stroke-width="2.1" stroke-linecap="butt"/>
<text class="s" x="151.65" y="1250" font-size="19.4" text-anchor="end">0.020</text>
<line x1="154.1" y1="1164" x2="162.8" y2="1164" stroke="#000" stroke-width="2.1" stroke-linecap="butt"/>
<text class="s" x="151.65" y="1170" font-size="19.4" text-anchor="end">0.025</text>
<line x1="237.7" y1="1560.5" x2="237.7" y2="1569.3" stroke="#000" stroke-width="2.1" stroke-linecap="butt"/>
<text class="s" x="237.7" y="1589" font-size="19.4" text-anchor="middle">CK</text>
<line x1="350.75" y1="1560.5" x2="350.75" y2="1569.3" stroke="#000" stroke-width="2.1" stroke-linecap="butt"/>
<text class="s" x="350.75" y="1589" font-size="19.4" text-anchor="middle">DSF</text>
<line x1="463.8" y1="1560.5" x2="463.8" y2="1569.3" stroke="#000" stroke-width="2.1" stroke-linecap="butt"/>
<text class="s" x="463.8" y="1589" font-size="19.4" text-anchor="middle">SF</text>
<text class="s" x="350.75" y="1620" font-size="22.65" text-anchor="middle">Thermodesulfovibrionia</text>
<text class="s" font-size="22.9" text-anchor="middle" transform="translate(98.1 1360.25) rotate(-90)">Relative Abundance</text>
<line x1="237.7" y1="1267.12" x2="237.7" y2="1344.24" stroke="#000" stroke-width="2.1" stroke-linecap="butt"/>
<line x1="218.8" y1="1267.12" x2="256.6" y2="1267.12" stroke="#000" stroke-width="2.1" stroke-linecap="butt"/>
<line x1="218.8" y1="1344.24" x2="256.6" y2="1344.24" stroke="#000" stroke-width="2.1" stroke-linecap="butt"/>
<line x1="350.75" y1="1271.78" x2="350.75" y2="1347.2" stroke="#000" stroke-width="2.1" stroke-linecap="butt"/>
<line x1="331.85" y1="1271.78" x2="369.65" y2="1271.78" stroke="#000" stroke-width="2.1" stroke-linecap="butt"/>
<line x1="331.85" y1="1347.2" x2="369.65" y2="1347.2" stroke="#000" stroke-width="2.1" stroke-linecap="butt"/>
<line x1="463.8" y1="1409.92" x2="463.8" y2="1431.95" stroke="#000" stroke-width="2.1" stroke-linecap="butt"/>
<line x1="444.9" y1="1409.92" x2="482.7" y2="1409.92" stroke="#000" stroke-width="2.1" stroke-linecap="butt"/>
<line x1="444.9" y1="1431.95" x2="482.7" y2="1431.95" stroke="#000" stroke-width="2.1" stroke-linecap="butt"/>
<circle cx="237.71" cy="1269.66" r="7.2" fill="none" stroke="#000" stroke-width="2.1"/>
<circle cx="237.71" cy="1302.29" r="7.2" fill="none" stroke="#000" stroke-width="2.1"/>
<circle cx="237.71" cy="1345.93" r="7.2" fill="none" stroke="#000" stroke-width="2.1"/>
<circle cx="336.44" cy="1283.22" r="7.2" fill="none" stroke="#000" stroke-width="2.1"/>
<circle cx="365.25" cy="1293.81" r="7.2" fill="none" stroke="#000" stroke-width="2.1"/>
<circle cx="350.85" cy="1353.14" r="7.2" fill="none" stroke="#000" stroke-width="2.1"/>
<circle cx="450" cy="1412.46" r="7.2" fill="none" stroke="#000" stroke-width="2.1"/>
<circle cx="477.97" cy="1416.69" r="7.2" fill="none" stroke="#000" stroke-width="2.1"/>
<circle cx="463.98" cy="1433.64" r="7.2" fill="none" stroke="#000" stroke-width="2.1"/>
<path d="M237.7 1231.53V1200.17H463.8V1231.53" fill="none" stroke="#000" stroke-width="2.1" stroke-linejoin="miter"/>
<path d="M237.7 1254.83V1243.39H346.8V1259.49" fill="none" stroke="#000" stroke-width="2.1" stroke-linejoin="miter"/>
<path d="M354.7 1259.49V1243.39H463.8V1397.2" fill="none" stroke="#000" stroke-width="2.1" stroke-linejoin="miter"/>
<text class="st" x="351.8" y="1196" font-size="18.5" text-anchor="middle" font-weight="bold" stroke="#000" stroke-width="0.45" letter-spacing="2.1">*</text>
<text class="n" x="292.25" y="1235" font-size="16" text-anchor="middle">ns</text>
<text class="st" x="410.3" y="1239" font-size="18.5" text-anchor="middle" font-weight="bold" stroke="#000" stroke-width="0.45" letter-spacing="2.1">*</text>
</g>
<g id="panel-h">
<text class="s" x="719.3" y="1126" font-size="47" text-anchor="start" font-weight="bold" letter-spacing="0.2">(h)</text>
<text class="s" x="1069.4" y="1133" font-size="22.6" text-anchor="middle" font-weight="bold">Class</text>
<path d="M919.65 1560.5V1306.53H993.05V1560.5" fill="#ffffff" stroke="#000" stroke-width="2.1" stroke-linejoin="miter"/>
<path d="M1032.7 1560.5V1374.75H1106.1V1560.5" fill="#d3d3d3" stroke="#000" stroke-width="2.1" stroke-linejoin="miter"/>
<path d="M1145.75 1560.5V1427.71H1219.15V1560.5" fill="#a0a0a0" stroke="#000" stroke-width="2.1" stroke-linejoin="miter"/>
<path d="M881.45 1162.95V1560.5H1259.25" fill="none" stroke="#000" stroke-width="2.1" stroke-linejoin="miter"/>
<line x1="872.75" y1="1560.5" x2="881.45" y2="1560.5" stroke="#000" stroke-width="2.1" stroke-linecap="butt"/>
<text class="s" x="870.3" y="1567" font-size="19.4" text-anchor="end">0.000</text>
<line x1="872.75" y1="1481.2" x2="881.45" y2="1481.2" stroke="#000" stroke-width="2.1" stroke-linecap="butt"/>
<text class="s" x="870.3" y="1488" font-size="19.4" text-anchor="end">0.005</text>
<line x1="872.75" y1="1401.9" x2="881.45" y2="1401.9" stroke="#000" stroke-width="2.1" stroke-linecap="butt"/>
<text class="s" x="870.3" y="1408" font-size="19.4" text-anchor="end">0.010</text>
<line x1="872.75" y1="1322.6" x2="881.45" y2="1322.6" stroke="#000" stroke-width="2.1" stroke-linecap="butt"/>
<text class="s" x="870.3" y="1329" font-size="19.4" text-anchor="end">0.015</text>
<line x1="872.75" y1="1243.3" x2="881.45" y2="1243.3" stroke="#000" stroke-width="2.1" stroke-linecap="butt"/>
<text class="s" x="870.3" y="1250" font-size="19.4" text-anchor="end">0.020</text>
<line x1="872.75" y1="1164" x2="881.45" y2="1164" stroke="#000" stroke-width="2.1" stroke-linecap="butt"/>
<text class="s" x="870.3" y="1170" font-size="19.4" text-anchor="end">0.025</text>
<line x1="956.35" y1="1560.5" x2="956.35" y2="1569.3" stroke="#000" stroke-width="2.1" stroke-linecap="butt"/>
<text class="s" x="956.35" y="1589" font-size="19.4" text-anchor="middle">CK</text>
<line x1="1069.4" y1="1560.5" x2="1069.4" y2="1569.3" stroke="#000" stroke-width="2.1" stroke-linecap="butt"/>
<text class="s" x="1069.4" y="1589" font-size="19.4" text-anchor="middle">DSF</text>
<line x1="1182.45" y1="1560.5" x2="1182.45" y2="1569.3" stroke="#000" stroke-width="2.1" stroke-linecap="butt"/>
<text class="s" x="1182.45" y="1589" font-size="19.4" text-anchor="middle">SF</text>
<text class="s" x="1069.4" y="1620" font-size="22.75" text-anchor="middle">Thermoleophilia</text>
<text class="s" font-size="22.9" text-anchor="middle" transform="translate(816.75 1360.25) rotate(-90)">Relative Abundance</text>
<line x1="956.35" y1="1276.02" x2="956.35" y2="1335.34" stroke="#000" stroke-width="2.1" stroke-linecap="butt"/>
<line x1="937.45" y1="1276.02" x2="975.25" y2="1276.02" stroke="#000" stroke-width="2.1" stroke-linecap="butt"/>
<line x1="937.45" y1="1335.34" x2="975.25" y2="1335.34" stroke="#000" stroke-width="2.1" stroke-linecap="butt"/>
<line x1="1069.4" y1="1327.29" x2="1069.4" y2="1420.93" stroke="#000" stroke-width="2.1" stroke-linecap="butt"/>
<line x1="1050.5" y1="1327.29" x2="1088.3" y2="1327.29" stroke="#000" stroke-width="2.1" stroke-linecap="butt"/>
<line x1="1050.5" y1="1420.93" x2="1088.3" y2="1420.93" stroke="#000" stroke-width="2.1" stroke-linecap="butt"/>
<line x1="1182.45" y1="1384.07" x2="1182.45" y2="1470.51" stroke="#000" stroke-width="2.1" stroke-linecap="butt"/>
<line x1="1163.55" y1="1384.07" x2="1201.35" y2="1384.07" stroke="#000" stroke-width="2.1" stroke-linecap="butt"/>
<line x1="1163.55" y1="1470.51" x2="1201.35" y2="1470.51" stroke="#000" stroke-width="2.1" stroke-linecap="butt"/>
<circle cx="942.37" cy="1287.46" r="7.2" fill="none" stroke="#000" stroke-width="2.1"/>
<circle cx="970.34" cy="1289.15" r="7.2" fill="none" stroke="#000" stroke-width="2.1"/>
<circle cx="956.36" cy="1340" r="7.2" fill="none" stroke="#000" stroke-width="2.1"/>
<circle cx="1069.49" cy="1336.61" r="7.2" fill="none" stroke="#000" stroke-width="2.1"/>
<circle cx="1069.49" cy="1359.49" r="7.2" fill="none" stroke="#000" stroke-width="2.1"/>
<circle cx="1069.49" cy="1427.29" r="7.2" fill="none" stroke="#000" stroke-width="2.1"/>
<circle cx="1182.63" cy="1383.64" r="7.2" fill="none" stroke="#000" stroke-width="2.1"/>
<circle cx="1182.63" cy="1428.14" r="7.2" fill="none" stroke="#000" stroke-width="2.1"/>
<circle cx="1182.63" cy="1470.08" r="7.2" fill="none" stroke="#000" stroke-width="2.1"/>
<path d="M956.35 1240.42V1209.07H1182.45V1240.42" fill="none" stroke="#000" stroke-width="2.1" stroke-linejoin="miter"/>
<path d="M956.35 1263.73V1252.29H1065.45V1314.58" fill="none" stroke="#000" stroke-width="2.1" stroke-linejoin="miter"/>
<path d="M1073.35 1314.58V1252.29H1182.45V1370.93" fill="none" stroke="#000" stroke-width="2.1" stroke-linejoin="miter"/>
<text class="st" x="1070.45" y="1204" font-size="18.5" text-anchor="middle" font-weight="bold" stroke="#000" stroke-width="0.45" letter-spacing="2.1">*</text>
<text class="n" x="1010.9" y="1243" font-size="16" text-anchor="middle">ns</text>
<text class="n" x="1127.9" y="1243" font-size="16" text-anchor="middle">ns</text>
</g>
<g id="panel-i">
<text class="s" x="1478.2" y="1126" font-size="47" text-anchor="start" font-weight="bold" letter-spacing="1">(i)</text>
<text class="s" x="1815.35" y="1131" font-size="22.6" text-anchor="middle" font-weight="bold">Class</text>
<path d="M1665.6 1558.5V1474.34H1739V1558.5" fill="#ffffff" stroke="#000" stroke-width="2.1" stroke-linejoin="miter"/>
<path d="M1778.65 1558.5V1344.26H1852.05V1558.5" fill="#d3d3d3" stroke="#000" stroke-width="2.1" stroke-linejoin="miter"/>
<path d="M1891.7 1558.5V1471.03H1965.1V1558.5" fill="#a0a0a0" stroke="#000" stroke-width="2.1" stroke-linejoin="miter"/>
<path d="M1627.1 1160.95V1558.5H2004.9" fill="none" stroke="#000" stroke-width="2.1" stroke-linejoin="miter"/>
<line x1="1618.4" y1="1558.5" x2="1627.1" y2="1558.5" stroke="#000" stroke-width="2.1" stroke-linecap="butt"/>
<text class="s" x="1615.95" y="1565" font-size="19.4" text-anchor="end">0.0000</text>
<line x1="1618.4" y1="1479.2" x2="1627.1" y2="1479.2" stroke="#000" stroke-width="2.1" stroke-linecap="butt"/>
<text class="s" x="1615.95" y="1486" font-size="19.4" text-anchor="end">0.0008</text>
<line x1="1618.4" y1="1399.9" x2="1627.1" y2="1399.9" stroke="#000" stroke-width="2.1" stroke-linecap="butt"/>
<text class="s" x="1615.95" y="1406" font-size="19.4" text-anchor="end">0.0016</text>
<line x1="1618.4" y1="1320.6" x2="1627.1" y2="1320.6" stroke="#000" stroke-width="2.1" stroke-linecap="butt"/>
<text class="s" x="1615.95" y="1327" font-size="19.4" text-anchor="end">0.0024</text>
<line x1="1618.4" y1="1241.3" x2="1627.1" y2="1241.3" stroke="#000" stroke-width="2.1" stroke-linecap="butt"/>
<text class="s" x="1615.95" y="1248" font-size="19.4" text-anchor="end">0.0032</text>
<line x1="1618.4" y1="1162" x2="1627.1" y2="1162" stroke="#000" stroke-width="2.1" stroke-linecap="butt"/>
<text class="s" x="1615.95" y="1168" font-size="19.4" text-anchor="end">0.0040</text>
<line x1="1702.3" y1="1558.5" x2="1702.3" y2="1567.3" stroke="#000" stroke-width="2.1" stroke-linecap="butt"/>
<text class="s" x="1702.3" y="1587" font-size="19.4" text-anchor="middle">CK</text>
<line x1="1815.35" y1="1558.5" x2="1815.35" y2="1567.3" stroke="#000" stroke-width="2.1" stroke-linecap="butt"/>
<text class="s" x="1815.35" y="1587" font-size="19.4" text-anchor="middle">DSF</text>
<line x1="1928.4" y1="1558.5" x2="1928.4" y2="1567.3" stroke="#000" stroke-width="2.1" stroke-linecap="butt"/>
<text class="s" x="1928.4" y="1587" font-size="19.4" text-anchor="middle">SF</text>
<text class="s" x="1815.35" y="1618" font-size="22.75" text-anchor="middle">Subgroup_21</text>
<text class="s" font-size="22.9" text-anchor="middle" transform="translate(1552.7 1358.25) rotate(-90)">Relative Abundance</text>
<line x1="1702.3" y1="1415.18" x2="1702.3" y2="1532.39" stroke="#000" stroke-width="2.1" stroke-linecap="butt"/>
<line x1="1683.4" y1="1415.18" x2="1721.2" y2="1415.18" stroke="#000" stroke-width="2.1" stroke-linecap="butt"/>
<line x1="1683.4" y1="1532.39" x2="1721.2" y2="1532.39" stroke="#000" stroke-width="2.1" stroke-linecap="butt"/>
<line x1="1815.35" y1="1285.84" x2="1815.35" y2="1401.58" stroke="#000" stroke-width="2.1" stroke-linecap="butt"/>
<line x1="1796.45" y1="1285.84" x2="1834.25" y2="1285.84" stroke="#000" stroke-width="2.1" stroke-linecap="butt"/>
<line x1="1796.45" y1="1401.58" x2="1834.25" y2="1401.58" stroke="#000" stroke-width="2.1" stroke-linecap="butt"/>
<line x1="1928.4" y1="1449.35" x2="1928.4" y2="1490.87" stroke="#000" stroke-width="2.1" stroke-linecap="butt"/>
<line x1="1909.5" y1="1449.35" x2="1947.3" y2="1449.35" stroke="#000" stroke-width="2.1" stroke-linecap="butt"/>
<line x1="1909.5" y1="1490.87" x2="1947.3" y2="1490.87" stroke="#000" stroke-width="2.1" stroke-linecap="butt"/>
<circle cx="1702.03" cy="1409.3" r="7.2" fill="none" stroke="#000" stroke-width="2.1"/>
<circle cx="1702.03" cy="1489.03" r="7.2" fill="none" stroke="#000" stroke-width="2.1"/>
<circle cx="1702.03" cy="1523.94" r="7.2" fill="none" stroke="#000" stroke-width="2.1"/>
<circle cx="1815.57" cy="1290.62" r="7.2" fill="none" stroke="#000" stroke-width="2.1"/>
<circle cx="1815.57" cy="1336.92" r="7.2" fill="none" stroke="#000" stroke-width="2.1"/>
<circle cx="1815.57" cy="1404.89" r="7.2" fill="none" stroke="#000" stroke-width="2.1"/>
<circle cx="1928.37" cy="1446.41" r="7.2" fill="none" stroke="#000" stroke-width="2.1"/>
<circle cx="1942.33" cy="1477.27" r="7.2" fill="none" stroke="#000" stroke-width="2.1"/>
<circle cx="1914.04" cy="1486.83" r="7.2" fill="none" stroke="#000" stroke-width="2.1"/>
<path d="M1702.3 1250.2V1218.6H1928.4V1250.2" fill="none" stroke="#000" stroke-width="2.1" stroke-linejoin="miter"/>
<path d="M1702.3 1397.17V1261.96H1811.4V1273.72" fill="none" stroke="#000" stroke-width="2.1" stroke-linejoin="miter"/>
<path d="M1819.3 1273.72V1261.96H1928.4V1434.29" fill="none" stroke="#000" stroke-width="2.1" stroke-linejoin="miter"/>
<text class="n" x="1815.35" y="1210" font-size="16" text-anchor="middle">ns</text>
<text class="st" x="1757.9" y="1257" font-size="18.5" text-anchor="middle" font-weight="bold" stroke="#000" stroke-width="0.45" letter-spacing="2.1">*</text>
<text class="st" x="1874.9" y="1257" font-size="18.5" text-anchor="middle" font-weight="bold" stroke="#000" stroke-width="0.45" letter-spacing="2.1">*</text>
</g>
<g id="panel-j">
<text class="s" x="13.1" y="1675" font-size="47" text-anchor="start" letter-spacing="1.2" stroke="#000" stroke-width="0.7">(j)</text>
<text class="s" x="350.75" y="1678" font-size="22.6" text-anchor="middle" font-weight="bold">Order</text>
<path d="M201 2105.5V2002.46H274.4V2105.5" fill="#ffffff" stroke="#000" stroke-width="2.1" stroke-linejoin="miter"/>
<path d="M314.05 2105.5V1873.64H387.45V2105.5" fill="#d3d3d3" stroke="#000" stroke-width="2.1" stroke-linejoin="miter"/>
<path d="M427.1 2105.5V1978.73H500.5V2105.5" fill="#a0a0a0" stroke="#000" stroke-width="2.1" stroke-linejoin="miter"/>
<path d="M162.8 1707.95V2105.5H540.6" fill="none" stroke="#000" stroke-width="2.1" stroke-linejoin="miter"/>
<line x1="154.1" y1="2105.5" x2="162.8" y2="2105.5" stroke="#000" stroke-width="2.1" stroke-linecap="butt"/>
<text class="s" x="151.65" y="2112" font-size="19.4" text-anchor="end">0.000</text>
<line x1="154.1" y1="2026.2" x2="162.8" y2="2026.2" stroke="#000" stroke-width="2.1" stroke-linecap="butt"/>
<text class="s" x="151.65" y="2032" font-size="19.4" text-anchor="end">0.005</text>
<line x1="154.1" y1="1946.9" x2="162.8" y2="1946.9" stroke="#000" stroke-width="2.1" stroke-linecap="butt"/>
<text class="s" x="151.65" y="1953" font-size="19.4" text-anchor="end">0.010</text>
<line x1="154.1" y1="1867.6" x2="162.8" y2="1867.6" stroke="#000" stroke-width="2.1" stroke-linecap="butt"/>
<text class="s" x="151.65" y="1874" font-size="19.4" text-anchor="end">0.015</text>
<line x1="154.1" y1="1788.3" x2="162.8" y2="1788.3" stroke="#000" stroke-width="2.1" stroke-linecap="butt"/>
<text class="s" x="151.65" y="1795" font-size="19.4" text-anchor="end">0.020</text>
<line x1="154.1" y1="1709" x2="162.8" y2="1709" stroke="#000" stroke-width="2.1" stroke-linecap="butt"/>
<text class="s" x="151.65" y="1715" font-size="19.4" text-anchor="end">0.025</text>
<line x1="237.7" y1="2105.5" x2="237.7" y2="2114.3" stroke="#000" stroke-width="2.1" stroke-linecap="butt"/>
<text class="s" x="237.7" y="2134" font-size="19.4" text-anchor="middle">CK</text>
<line x1="350.75" y1="2105.5" x2="350.75" y2="2114.3" stroke="#000" stroke-width="2.1" stroke-linecap="butt"/>
<text class="s" x="350.75" y="2134" font-size="19.4" text-anchor="middle">DSF</text>
<line x1="463.8" y1="2105.5" x2="463.8" y2="2114.3" stroke="#000" stroke-width="2.1" stroke-linecap="butt"/>
<text class="s" x="463.8" y="2134" font-size="19.4" text-anchor="middle">SF</text>
<text class="s" x="350.75" y="2165" font-size="23" text-anchor="middle">uncultured_bacterium_c_Deltaproteobacteria</text>
<text class="s" font-size="22.9" text-anchor="middle" transform="translate(98.1 1905.25) rotate(-90)">Relative Abundance</text>
<line x1="237.7" y1="1982.54" x2="237.7" y2="2020.68" stroke="#000" stroke-width="2.1" stroke-linecap="butt"/>
<line x1="218.8" y1="1982.54" x2="256.6" y2="1982.54" stroke="#000" stroke-width="2.1" stroke-linecap="butt"/>
<line x1="218.8" y1="2020.68" x2="256.6" y2="2020.68" stroke="#000" stroke-width="2.1" stroke-linecap="butt"/>
<line x1="350.75" y1="1810.08" x2="350.75" y2="1935.08" stroke="#000" stroke-width="2.1" stroke-linecap="butt"/>
<line x1="331.85" y1="1810.08" x2="369.65" y2="1810.08" stroke="#000" stroke-width="2.1" stroke-linecap="butt"/>
<line x1="331.85" y1="1935.08" x2="369.65" y2="1935.08" stroke="#000" stroke-width="2.1" stroke-linecap="butt"/>
<line x1="463.8" y1="1947.37" x2="463.8" y2="2007.97" stroke="#000" stroke-width="2.1" stroke-linecap="butt"/>
<line x1="444.9" y1="1947.37" x2="482.7" y2="1947.37" stroke="#000" stroke-width="2.1" stroke-linecap="butt"/>
<line x1="444.9" y1="2007.97" x2="482.7" y2="2007.97" stroke="#000" stroke-width="2.1" stroke-linecap="butt"/>
<circle cx="237.71" cy="1982.12" r="7.2" fill="none" stroke="#000" stroke-width="2.1"/>
<circle cx="237.71" cy="2002.46" r="7.2" fill="none" stroke="#000" stroke-width="2.1"/>
<circle cx="237.71" cy="2020.25" r="7.2" fill="none" stroke="#000" stroke-width="2.1"/>
<circle cx="350.85" cy="1818.56" r="7.2" fill="none" stroke="#000" stroke-width="2.1"/>
<circle cx="350.85" cy="1858.81" r="7.2" fill="none" stroke="#000" stroke-width="2.1"/>
<circle cx="350.85" cy="1941.44" r="7.2" fill="none" stroke="#000" stroke-width="2.1"/>
<circle cx="463.98" cy="1950.76" r="7.2" fill="none" stroke="#000" stroke-width="2.1"/>
<circle cx="463.98" cy="1972.37" r="7.2" fill="none" stroke="#000" stroke-width="2.1"/>
<circle cx="463.98" cy="2010.51" r="7.2" fill="none" stroke="#000" stroke-width="2.1"/>
<path d="M237.7 1774.49V1742.71H463.8V1774.49" fill="none" stroke="#000" stroke-width="2.1" stroke-linejoin="miter"/>
<path d="M237.7 1970.25V1786.36H346.8V1798.22" fill="none" stroke="#000" stroke-width="2.1" stroke-linejoin="miter"/>
<path d="M354.7 1798.22V1786.36H463.8V1935.08" fill="none" stroke="#000" stroke-width="2.1" stroke-linejoin="miter"/>
<text class="n" x="350.75" y="1734" font-size="16" text-anchor="middle">ns</text>
<text class="st" x="293.3" y="1782" font-size="18.5" text-anchor="middle" font-weight="bold" stroke="#000" stroke-width="0.45" letter-spacing="2.1">*</text>
<text class="st" x="410.3" y="1782" font-size="18.5" text-anchor="middle" font-weight="bold" stroke="#000" stroke-width="0.45" letter-spacing="2.1">*</text>
</g>
<g id="panel-k">
<text class="s" x="720.2" y="1674" font-size="47" text-anchor="start" font-weight="bold">(k)</text>
<text class="s" x="1069.4" y="1683" font-size="22.6" text-anchor="middle" font-weight="bold">Family</text>
<path d="M919.65 2110.5V1930H993.05V2110.5" fill="#ffffff" stroke="#000" stroke-width="2.1" stroke-linejoin="miter"/>
<path d="M1032.7 2110.5V2055H1106.1V2110.5" fill="#d3d3d3" stroke="#000" stroke-width="2.1" stroke-linejoin="miter"/>
<path d="M1145.75 2110.5V2023.22H1219.15V2110.5" fill="#a0a0a0" stroke="#000" stroke-width="2.1" stroke-linejoin="miter"/>
<path d="M881.45 1712.95V2110.5H1259.25" fill="none" stroke="#000" stroke-width="2.1" stroke-linejoin="miter"/>
<line x1="872.75" y1="2110.5" x2="881.45" y2="2110.5" stroke="#000" stroke-width="2.1" stroke-linecap="butt"/>
<text class="s" x="870.3" y="2117" font-size="19.4" text-anchor="end">0.00</text>
<line x1="872.75" y1="2031.2" x2="881.45" y2="2031.2" stroke="#000" stroke-width="2.1" stroke-linecap="butt"/>
<text class="s" x="870.3" y="2038" font-size="19.4" text-anchor="end">0.03</text>
<line x1="872.75" y1="1951.9" x2="881.45" y2="1951.9" stroke="#000" stroke-width="2.1" stroke-linecap="butt"/>
<text class="s" x="870.3" y="1958" font-size="19.4" text-anchor="end">0.06</text>
<line x1="872.75" y1="1872.6" x2="881.45" y2="1872.6" stroke="#000" stroke-width="2.1" stroke-linecap="butt"/>
<text class="s" x="870.3" y="1879" font-size="19.4" text-anchor="end">0.09</text>
<line x1="872.75" y1="1793.3" x2="881.45" y2="1793.3" stroke="#000" stroke-width="2.1" stroke-linecap="butt"/>
<text class="s" x="870.3" y="1800" font-size="19.4" text-anchor="end">0.12</text>
<line x1="872.75" y1="1714" x2="881.45" y2="1714" stroke="#000" stroke-width="2.1" stroke-linecap="butt"/>
<text class="s" x="870.3" y="1720" font-size="19.4" text-anchor="end">0.15</text>
<line x1="956.35" y1="2110.5" x2="956.35" y2="2119.3" stroke="#000" stroke-width="2.1" stroke-linecap="butt"/>
<text class="s" x="956.35" y="2139" font-size="19.4" text-anchor="middle">CK</text>
<line x1="1069.4" y1="2110.5" x2="1069.4" y2="2119.3" stroke="#000" stroke-width="2.1" stroke-linecap="butt"/>
<text class="s" x="1069.4" y="2139" font-size="19.4" text-anchor="middle">DSF</text>
<line x1="1182.45" y1="2110.5" x2="1182.45" y2="2119.3" stroke="#000" stroke-width="2.1" stroke-linecap="butt"/>
<text class="s" x="1182.45" y="2139" font-size="19.4" text-anchor="middle">SF</text>
<text class="s" x="1069.4" y="2170" font-size="22.75" text-anchor="middle">Oxalobacteraceae</text>
<text class="s" font-size="22.9" text-anchor="middle" transform="translate(826.45 1910.25) rotate(-90)">Relative Abundance</text>
<line x1="956.35" y1="1856.27" x2="956.35" y2="2002.88" stroke="#000" stroke-width="2.1" stroke-linecap="butt"/>
<line x1="937.45" y1="1856.27" x2="975.25" y2="1856.27" stroke="#000" stroke-width="2.1" stroke-linecap="butt"/>
<line x1="937.45" y1="2002.88" x2="975.25" y2="2002.88" stroke="#000" stroke-width="2.1" stroke-linecap="butt"/>
<line x1="1069.4" y1="2048.64" x2="1069.4" y2="2060.08" stroke="#000" stroke-width="2.1" stroke-linecap="butt"/>
<line x1="1050.5" y1="2048.64" x2="1088.3" y2="2048.64" stroke="#000" stroke-width="2.1" stroke-linecap="butt"/>
<line x1="1050.5" y1="2060.08" x2="1088.3" y2="2060.08" stroke="#000" stroke-width="2.1" stroke-linecap="butt"/>
<line x1="1182.45" y1="1987.63" x2="1182.45" y2="2057.12" stroke="#000" stroke-width="2.1" stroke-linecap="butt"/>
<line x1="1163.55" y1="1987.63" x2="1201.35" y2="1987.63" stroke="#000" stroke-width="2.1" stroke-linecap="butt"/>
<line x1="1163.55" y1="2057.12" x2="1201.35" y2="2057.12" stroke="#000" stroke-width="2.1" stroke-linecap="butt"/>
<circle cx="956.36" cy="1845.68" r="7.2" fill="none" stroke="#000" stroke-width="2.1"/>
<circle cx="956.36" cy="1963.05" r="7.2" fill="none" stroke="#000" stroke-width="2.1"/>
<circle cx="956.36" cy="1980.42" r="7.2" fill="none" stroke="#000" stroke-width="2.1"/>
<circle cx="1069.49" cy="2048.64" r="7.2" fill="none" stroke="#000" stroke-width="2.1"/>
<circle cx="1038.98" cy="2058.81" r="7.2" fill="none" stroke="#000" stroke-width="2.1"/>
<circle cx="1100" cy="2055.85" r="7.2" fill="none" stroke="#000" stroke-width="2.1"/>
<circle cx="1182.63" cy="1986.78" r="7.2" fill="none" stroke="#000" stroke-width="2.1"/>
<circle cx="1182.63" cy="2024.49" r="7.2" fill="none" stroke="#000" stroke-width="2.1"/>
<circle cx="1182.63" cy="2056.69" r="7.2" fill="none" stroke="#000" stroke-width="2.1"/>
<path d="M956.35 1809.66V1777.88H1182.45V1809.66" fill="none" stroke="#000" stroke-width="2.1" stroke-linejoin="miter"/>
<path d="M956.35 1833.39V1821.53H1065.45V2036.78" fill="none" stroke="#000" stroke-width="2.1" stroke-linejoin="miter"/>
<path d="M1073.35 2036.78V1821.53H1182.45V1974.49" fill="none" stroke="#000" stroke-width="2.1" stroke-linejoin="miter"/>
<text class="n" x="1069.4" y="1769" font-size="16" text-anchor="middle">ns</text>
<text class="st" x="1011.95" y="1817" font-size="18.5" text-anchor="middle" font-weight="bold" stroke="#000" stroke-width="0.45" letter-spacing="2.1">*</text>
<text class="n" x="1127.9" y="1813" font-size="16" text-anchor="middle">ns</text>
</g>
<g id="panel-l">
<text class="s" x="1479.1" y="1674" font-size="47" text-anchor="start" font-weight="bold" letter-spacing="1.7">(l)</text>
<text class="s" x="1815.35" y="1683" font-size="22.6" text-anchor="middle" font-weight="bold">Genus</text>
<path d="M1665.6 2110.5V1932.77H1739V2110.5" fill="#ffffff" stroke="#000" stroke-width="2.1" stroke-linejoin="miter"/>
<path d="M1778.65 2110.5V2060.63H1852.05V2110.5" fill="#d3d3d3" stroke="#000" stroke-width="2.1" stroke-linejoin="miter"/>
<path d="M1891.7 2110.5V2026.09H1965.1V2110.5" fill="#a0a0a0" stroke="#000" stroke-width="2.1" stroke-linejoin="miter"/>
<path d="M1627.1 1712.95V2110.5H2004.9" fill="none" stroke="#000" stroke-width="2.1" stroke-linejoin="miter"/>
<line x1="1618.4" y1="2110.5" x2="1627.1" y2="2110.5" stroke="#000" stroke-width="2.1" stroke-linecap="butt"/>
<text class="s" x="1615.95" y="2117" font-size="19.4" text-anchor="end">0.00</text>
<line x1="1618.4" y1="2031.2" x2="1627.1" y2="2031.2" stroke="#000" stroke-width="2.1" stroke-linecap="butt"/>
<text class="s" x="1615.95" y="2038" font-size="19.4" text-anchor="end">0.03</text>
<line x1="1618.4" y1="1951.9" x2="1627.1" y2="1951.9" stroke="#000" stroke-width="2.1" stroke-linecap="butt"/>
<text class="s" x="1615.95" y="1958" font-size="19.4" text-anchor="end">0.06</text>
<line x1="1618.4" y1="1872.6" x2="1627.1" y2="1872.6" stroke="#000" stroke-width="2.1" stroke-linecap="butt"/>
<text class="s" x="1615.95" y="1879" font-size="19.4" text-anchor="end">0.09</text>
<line x1="1618.4" y1="1793.3" x2="1627.1" y2="1793.3" stroke="#000" stroke-width="2.1" stroke-linecap="butt"/>
<text class="s" x="1615.95" y="1800" font-size="19.4" text-anchor="end">0.12</text>
<line x1="1618.4" y1="1714" x2="1627.1" y2="1714" stroke="#000" stroke-width="2.1" stroke-linecap="butt"/>
<text class="s" x="1615.95" y="1720" font-size="19.4" text-anchor="end">0.15</text>
<line x1="1702.3" y1="2110.5" x2="1702.3" y2="2119.3" stroke="#000" stroke-width="2.1" stroke-linecap="butt"/>
<text class="s" x="1702.3" y="2139" font-size="19.4" text-anchor="middle">CK</text>
<line x1="1815.35" y1="2110.5" x2="1815.35" y2="2119.3" stroke="#000" stroke-width="2.1" stroke-linecap="butt"/>
<text class="s" x="1815.35" y="2139" font-size="19.4" text-anchor="middle">DSF</text>
<line x1="1928.4" y1="2110.5" x2="1928.4" y2="2119.3" stroke="#000" stroke-width="2.1" stroke-linecap="butt"/>
<text class="s" x="1928.4" y="2139" font-size="19.4" text-anchor="middle">SF</text>
<text class="s" x="1815.35" y="2170" font-size="22.75" text-anchor="middle">Massilia</text>
<text class="s" font-size="22.9" text-anchor="middle" transform="translate(1572.1 1910.25) rotate(-90)">Relative Abundance</text>
<line x1="1702.3" y1="1859.28" x2="1702.3" y2="2005.15" stroke="#000" stroke-width="2.1" stroke-linecap="butt"/>
<line x1="1683.4" y1="1859.28" x2="1721.2" y2="1859.28" stroke="#000" stroke-width="2.1" stroke-linecap="butt"/>
<line x1="1683.4" y1="2005.15" x2="1721.2" y2="2005.15" stroke="#000" stroke-width="2.1" stroke-linecap="butt"/>
<line x1="1815.35" y1="2056.96" x2="1815.35" y2="2062.1" stroke="#000" stroke-width="2.1" stroke-linecap="butt"/>
<line x1="1796.45" y1="2056.96" x2="1834.25" y2="2056.96" stroke="#000" stroke-width="2.1" stroke-linecap="butt"/>
<line x1="1796.45" y1="2062.1" x2="1834.25" y2="2062.1" stroke="#000" stroke-width="2.1" stroke-linecap="butt"/>
<line x1="1928.4" y1="1991.19" x2="1928.4" y2="2059.9" stroke="#000" stroke-width="2.1" stroke-linecap="butt"/>
<line x1="1909.5" y1="1991.19" x2="1947.3" y2="1991.19" stroke="#000" stroke-width="2.1" stroke-linecap="butt"/>
<line x1="1909.5" y1="2059.9" x2="1947.3" y2="2059.9" stroke="#000" stroke-width="2.1" stroke-linecap="butt"/>
<circle cx="1702.03" cy="1848.99" r="7.2" fill="none" stroke="#000" stroke-width="2.1"/>
<circle cx="1702.03" cy="1964.36" r="7.2" fill="none" stroke="#000" stroke-width="2.1"/>
<circle cx="1702.03" cy="1983.84" r="7.2" fill="none" stroke="#000" stroke-width="2.1"/>
<circle cx="1815.57" cy="2057.33" r="7.2" fill="none" stroke="#000" stroke-width="2.1"/>
<circle cx="1784.7" cy="2061.73" r="7.2" fill="none" stroke="#000" stroke-width="2.1"/>
<circle cx="1846.06" cy="2058.43" r="7.2" fill="none" stroke="#000" stroke-width="2.1"/>
<circle cx="1928.37" cy="1988.98" r="7.2" fill="none" stroke="#000" stroke-width="2.1"/>
<circle cx="1928.37" cy="2028.67" r="7.2" fill="none" stroke="#000" stroke-width="2.1"/>
<circle cx="1928.37" cy="2058.06" r="7.2" fill="none" stroke="#000" stroke-width="2.1"/>
<path d="M1702.3 1812.61V1781.38H1928.4V1812.61" fill="none" stroke="#000" stroke-width="2.1" stroke-linejoin="miter"/>
<path d="M1702.3 1836.5V1824.74H1811.4V2045.2" fill="none" stroke="#000" stroke-width="2.1" stroke-linejoin="miter"/>
<path d="M1819.3 2045.2V1824.74H1928.4V1977.22" fill="none" stroke="#000" stroke-width="2.1" stroke-linejoin="miter"/>
<text class="n" x="1815.35" y="1773" font-size="16" text-anchor="middle">ns</text>
<text class="st" x="1757.9" y="1820" font-size="18.5" text-anchor="middle" font-weight="bold" stroke="#000" stroke-width="0.45" letter-spacing="2.1">*</text>
<text class="n" x="1873.85" y="1816" font-size="16" text-anchor="middle">ns</text>
</g>
<g id="panel-m">
<text class="s" x="1.7" y="2218" font-size="47" text-anchor="start" font-weight="bold">(m)</text>
<text class="s" x="350.75" y="2224" font-size="22.6" text-anchor="middle" font-weight="bold">Species</text>
<rect x="201" y="2651" width="73.4" height="0.7" fill="#ffffff" stroke="#000" stroke-width="2.1"/>
<path d="M314.05 2651.7V2497.41H387.45V2651.7" fill="#d3d3d3" stroke="#000" stroke-width="2.1" stroke-linejoin="miter"/>
<path d="M427.1 2651.7V2427.07H500.5V2651.7" fill="#a0a0a0" stroke="#000" stroke-width="2.1" stroke-linejoin="miter"/>
<path d="M162.8 2254.15V2651.7H540.6" fill="none" stroke="#000" stroke-width="2.1" stroke-linejoin="miter"/>
<line x1="154.1" y1="2651.7" x2="162.8" y2="2651.7" stroke="#000" stroke-width="2.1" stroke-linecap="butt"/>
<text class="s" x="151.65" y="2658" font-size="19.4" text-anchor="end">0.0000</text>
<line x1="154.1" y1="2572.4" x2="162.8" y2="2572.4" stroke="#000" stroke-width="2.1" stroke-linecap="butt"/>
<text class="s" x="151.65" y="2579" font-size="19.4" text-anchor="end">0.0001</text>
<line x1="154.1" y1="2493.1" x2="162.8" y2="2493.1" stroke="#000" stroke-width="2.1" stroke-linecap="butt"/>
<text class="s" x="151.65" y="2499" font-size="19.4" text-anchor="end">0.0002</text>
<line x1="154.1" y1="2413.8" x2="162.8" y2="2413.8" stroke="#000" stroke-width="2.1" stroke-linecap="butt"/>
<text class="s" x="151.65" y="2420" font-size="19.4" text-anchor="end">0.0003</text>
<line x1="154.1" y1="2334.5" x2="162.8" y2="2334.5" stroke="#000" stroke-width="2.1" stroke-linecap="butt"/>
<text class="s" x="151.65" y="2341" font-size="19.4" text-anchor="end">0.0004</text>
<line x1="154.1" y1="2255.2" x2="162.8" y2="2255.2" stroke="#000" stroke-width="2.1" stroke-linecap="butt"/>
<text class="s" x="151.65" y="2262" font-size="19.4" text-anchor="end">0.0005</text>
<line x1="237.7" y1="2651.7" x2="237.7" y2="2660.5" stroke="#000" stroke-width="2.1" stroke-linecap="butt"/>
<text class="s" x="237.7" y="2680" font-size="19.4" text-anchor="middle">CK</text>
<line x1="350.75" y1="2651.7" x2="350.75" y2="2660.5" stroke="#000" stroke-width="2.1" stroke-linecap="butt"/>
<text class="s" x="350.75" y="2680" font-size="19.4" text-anchor="middle">DSF</text>
<line x1="463.8" y1="2651.7" x2="463.8" y2="2660.5" stroke="#000" stroke-width="2.1" stroke-linecap="butt"/>
<text class="s" x="463.8" y="2680" font-size="19.4" text-anchor="middle">SF</text>
<text class="s" x="350.75" y="2711" font-size="23" text-anchor="middle">uncultured_bacterium_c_Parcubacteria</text>
<text class="s" font-size="22.9" text-anchor="middle" transform="translate(88.4 2451.45) rotate(-90)">Relative Abundance</text>
<line x1="350.75" y1="2417.75" x2="350.75" y2="2576.22" stroke="#000" stroke-width="2.1" stroke-linecap="butt"/>
<line x1="331.85" y1="2417.75" x2="369.65" y2="2417.75" stroke="#000" stroke-width="2.1" stroke-linecap="butt"/>
<line x1="331.85" y1="2576.22" x2="369.65" y2="2576.22" stroke="#000" stroke-width="2.1" stroke-linecap="butt"/>
<line x1="463.8" y1="2387.24" x2="463.8" y2="2466.05" stroke="#000" stroke-width="2.1" stroke-linecap="butt"/>
<line x1="444.9" y1="2387.24" x2="482.7" y2="2387.24" stroke="#000" stroke-width="2.1" stroke-linecap="butt"/>
<line x1="444.9" y1="2466.05" x2="482.7" y2="2466.05" stroke="#000" stroke-width="2.1" stroke-linecap="butt"/>
<circle cx="206.78" cy="2651.64" r="7.2" fill="none" stroke="#000" stroke-width="2.1"/>
<circle cx="237.71" cy="2651.64" r="7.2" fill="none" stroke="#000" stroke-width="2.1"/>
<circle cx="268.64" cy="2651.64" r="7.2" fill="none" stroke="#000" stroke-width="2.1"/>
<circle cx="350.85" cy="2421.98" r="7.2" fill="none" stroke="#000" stroke-width="2.1"/>
<circle cx="350.85" cy="2490.63" r="7.2" fill="none" stroke="#000" stroke-width="2.1"/>
<circle cx="350.85" cy="2579.61" r="7.2" fill="none" stroke="#000" stroke-width="2.1"/>
<circle cx="463.98" cy="2383.85" r="7.2" fill="none" stroke="#000" stroke-width="2.1"/>
<circle cx="463.98" cy="2435.12" r="7.2" fill="none" stroke="#000" stroke-width="2.1"/>
<circle cx="463.98" cy="2461.81" r="7.2" fill="none" stroke="#000" stroke-width="2.1"/>
<path d="M237.7 2348.68V2316.9H463.8V2348.68" fill="none" stroke="#000" stroke-width="2.1" stroke-linejoin="miter"/>
<path d="M237.7 2639.49V2360.54H346.8V2405.03" fill="none" stroke="#000" stroke-width="2.1" stroke-linejoin="miter"/>
<path d="M354.7 2405.03V2360.54H463.8V2371.98" fill="none" stroke="#000" stroke-width="2.1" stroke-linejoin="miter"/>
<text class="st" x="351.8" y="2312" font-size="18.5" text-anchor="middle" font-weight="bold" stroke="#000" stroke-width="0.45" letter-spacing="2.1">**</text>
<text class="st" x="293.3" y="2356" font-size="18.5" text-anchor="middle" font-weight="bold" stroke="#000" stroke-width="0.45" letter-spacing="2.1">*</text>
<text class="n" x="409.25" y="2352" font-size="16" text-anchor="middle">ns</text>
</g>
<g id="panel-n">
<text class="s" x="722.3" y="2218" font-size="47" text-anchor="start" font-weight="bold" letter-spacing="0.2">(n)</text>
<text class="s" x="1069.4" y="2224" font-size="22.6" text-anchor="middle" font-weight="bold">Species</text>
<path d="M919.65 2651.7V2616.05H993.05V2651.7" fill="#ffffff" stroke="#000" stroke-width="2.1" stroke-linejoin="miter"/>
<path d="M1032.7 2651.7V2421.14H1106.1V2651.7" fill="#d3d3d3" stroke="#000" stroke-width="2.1" stroke-linejoin="miter"/>
<path d="M1145.75 2651.7V2564.78H1219.15V2651.7" fill="#a0a0a0" stroke="#000" stroke-width="2.1" stroke-linejoin="miter"/>
<path d="M881.45 2254.15V2651.7H1259.25" fill="none" stroke="#000" stroke-width="2.1" stroke-linejoin="miter"/>
<line x1="872.75" y1="2651.7" x2="881.45" y2="2651.7" stroke="#000" stroke-width="2.1" stroke-linecap="butt"/>
<text class="s" x="870.3" y="2658" font-size="19.4" text-anchor="end">0.0000</text>
<line x1="872.75" y1="2572.4" x2="881.45" y2="2572.4" stroke="#000" stroke-width="2.1" stroke-linecap="butt"/>
<text class="s" x="870.3" y="2579" font-size="19.4" text-anchor="end">0.0005</text>
<line x1="872.75" y1="2493.1" x2="881.45" y2="2493.1" stroke="#000" stroke-width="2.1" stroke-linecap="butt"/>
<text class="s" x="870.3" y="2499" font-size="19.4" text-anchor="end">0.0010</text>
<line x1="872.75" y1="2413.8" x2="881.45" y2="2413.8" stroke="#000" stroke-width="2.1" stroke-linecap="butt"/>
<text class="s" x="870.3" y="2420" font-size="19.4" text-anchor="end">0.0015</text>
<line x1="872.75" y1="2334.5" x2="881.45" y2="2334.5" stroke="#000" stroke-width="2.1" stroke-linecap="butt"/>
<text class="s" x="870.3" y="2341" font-size="19.4" text-anchor="end">0.0020</text>
<line x1="872.75" y1="2255.2" x2="881.45" y2="2255.2" stroke="#000" stroke-width="2.1" stroke-linecap="butt"/>
<text class="s" x="870.3" y="2262" font-size="19.4" text-anchor="end">0.0025</text>
<line x1="956.35" y1="2651.7" x2="956.35" y2="2660.5" stroke="#000" stroke-width="2.1" stroke-linecap="butt"/>
<text class="s" x="956.35" y="2680" font-size="19.4" text-anchor="middle">CK</text>
<line x1="1069.4" y1="2651.7" x2="1069.4" y2="2660.5" stroke="#000" stroke-width="2.1" stroke-linecap="butt"/>
<text class="s" x="1069.4" y="2680" font-size="19.4" text-anchor="middle">DSF</text>
<line x1="1182.45" y1="2651.7" x2="1182.45" y2="2660.5" stroke="#000" stroke-width="2.1" stroke-linecap="butt"/>
<text class="s" x="1182.45" y="2680" font-size="19.4" text-anchor="middle">SF</text>
<text class="s" x="1069.4" y="2711" font-size="22.75" text-anchor="middle">Paenibacillus_koleovorans</text>
<text class="s" font-size="22.9" text-anchor="middle" transform="translate(807.05 2451.45) rotate(-90)">Relative Abundance</text>
<line x1="956.35" y1="2596.56" x2="956.35" y2="2634.69" stroke="#000" stroke-width="2.1" stroke-linecap="butt"/>
<line x1="937.45" y1="2596.56" x2="975.25" y2="2596.56" stroke="#000" stroke-width="2.1" stroke-linecap="butt"/>
<line x1="937.45" y1="2634.69" x2="975.25" y2="2634.69" stroke="#000" stroke-width="2.1" stroke-linecap="butt"/>
<line x1="1069.4" y1="2377.49" x2="1069.4" y2="2463.51" stroke="#000" stroke-width="2.1" stroke-linecap="butt"/>
<line x1="1050.5" y1="2377.49" x2="1088.3" y2="2377.49" stroke="#000" stroke-width="2.1" stroke-linecap="butt"/>
<line x1="1050.5" y1="2463.51" x2="1088.3" y2="2463.51" stroke="#000" stroke-width="2.1" stroke-linecap="butt"/>
<line x1="1182.45" y1="2539.78" x2="1182.45" y2="2588.51" stroke="#000" stroke-width="2.1" stroke-linecap="butt"/>
<line x1="1163.55" y1="2539.78" x2="1201.35" y2="2539.78" stroke="#000" stroke-width="2.1" stroke-linecap="butt"/>
<line x1="1163.55" y1="2588.51" x2="1201.35" y2="2588.51" stroke="#000" stroke-width="2.1" stroke-linecap="butt"/>
<circle cx="956.36" cy="2595.71" r="7.2" fill="none" stroke="#000" stroke-width="2.1"/>
<circle cx="956.36" cy="2617.32" r="7.2" fill="none" stroke="#000" stroke-width="2.1"/>
<circle cx="956.36" cy="2633.42" r="7.2" fill="none" stroke="#000" stroke-width="2.1"/>
<circle cx="1069.49" cy="2377.49" r="7.2" fill="none" stroke="#000" stroke-width="2.1"/>
<circle cx="1069.49" cy="2421.98" r="7.2" fill="none" stroke="#000" stroke-width="2.1"/>
<circle cx="1069.49" cy="2463.08" r="7.2" fill="none" stroke="#000" stroke-width="2.1"/>
<circle cx="1182.63" cy="2535.54" r="7.2" fill="none" stroke="#000" stroke-width="2.1"/>
<circle cx="1196.61" cy="2576.22" r="7.2" fill="none" stroke="#000" stroke-width="2.1"/>
<circle cx="1168.22" cy="2580.46" r="7.2" fill="none" stroke="#000" stroke-width="2.1"/>
<path d="M956.35 2341.47V2309.69H1182.45V2341.47" fill="none" stroke="#000" stroke-width="2.1" stroke-linejoin="miter"/>
<path d="M956.35 2583.85V2352.92H1065.45V2364.78" fill="none" stroke="#000" stroke-width="2.1" stroke-linejoin="miter"/>
<path d="M1073.35 2364.78V2352.92H1182.45V2523.25" fill="none" stroke="#000" stroke-width="2.1" stroke-linejoin="miter"/>
<text class="n" x="1069.4" y="2301" font-size="16" text-anchor="middle">ns</text>
<text class="st" x="1011.95" y="2348" font-size="18.5" text-anchor="middle" font-weight="bold" stroke="#000" stroke-width="0.45" letter-spacing="2.1">***</text>
<text class="st" x="1128.95" y="2348" font-size="18.5" text-anchor="middle" font-weight="bold" stroke="#000" stroke-width="0.45" letter-spacing="2.1">**</text>
</g>
<g id="panel-o">
<text class="s" x="1475.7" y="2218" font-size="47" text-anchor="start" font-weight="bold" letter-spacing="1.1">(o)</text>
<text class="s" x="1815.35" y="2224" font-size="22.6" text-anchor="middle" font-weight="bold">Species</text>
<path d="M1665.6 2651.7V2640.24H1739V2651.7" fill="#ffffff" stroke="#000" stroke-width="2.1" stroke-linejoin="miter"/>
<path d="M1778.65 2651.7V2414.63H1852.05V2651.7" fill="#d3d3d3" stroke="#000" stroke-width="2.1" stroke-linejoin="miter"/>
<path d="M1891.7 2651.7V2640.24H1965.1V2651.7" fill="#a0a0a0" stroke="#000" stroke-width="2.1" stroke-linejoin="miter"/>
<path d="M1627.1 2254.15V2651.7H2004.9" fill="none" stroke="#000" stroke-width="2.1" stroke-linejoin="miter"/>
<line x1="1618.4" y1="2651.7" x2="1627.1" y2="2651.7" stroke="#000" stroke-width="2.1" stroke-linecap="butt"/>
<text class="s" x="1615.95" y="2658" font-size="19.4" text-anchor="end">0.0000</text>
<line x1="1618.4" y1="2572.4" x2="1627.1" y2="2572.4" stroke="#000" stroke-width="2.1" stroke-linecap="butt"/>
<text class="s" x="1615.95" y="2579" font-size="19.4" text-anchor="end">0.0012</text>
<line x1="1618.4" y1="2493.1" x2="1627.1" y2="2493.1" stroke="#000" stroke-width="2.1" stroke-linecap="butt"/>
<text class="s" x="1615.95" y="2499" font-size="19.4" text-anchor="end">0.0024</text>
<line x1="1618.4" y1="2413.8" x2="1627.1" y2="2413.8" stroke="#000" stroke-width="2.1" stroke-linecap="butt"/>
<text class="s" x="1615.95" y="2420" font-size="19.4" text-anchor="end">0.0036</text>
<line x1="1618.4" y1="2334.5" x2="1627.1" y2="2334.5" stroke="#000" stroke-width="2.1" stroke-linecap="butt"/>
<text class="s" x="1615.95" y="2341" font-size="19.4" text-anchor="end">0.0048</text>
<line x1="1618.4" y1="2255.2" x2="1627.1" y2="2255.2" stroke="#000" stroke-width="2.1" stroke-linecap="butt"/>
<text class="s" x="1615.95" y="2262" font-size="19.4" text-anchor="end">0.0060</text>
<line x1="1702.3" y1="2651.7" x2="1702.3" y2="2660.5" stroke="#000" stroke-width="2.1" stroke-linecap="butt"/>
<text class="s" x="1702.3" y="2680" font-size="19.4" text-anchor="middle">CK</text>
<line x1="1815.35" y1="2651.7" x2="1815.35" y2="2660.5" stroke="#000" stroke-width="2.1" stroke-linecap="butt"/>
<text class="s" x="1815.35" y="2680" font-size="19.4" text-anchor="middle">DSF</text>
<line x1="1928.4" y1="2651.7" x2="1928.4" y2="2660.5" stroke="#000" stroke-width="2.1" stroke-linecap="butt"/>
<text class="s" x="1928.4" y="2680" font-size="19.4" text-anchor="middle">SF</text>
<text class="s" x="1815.35" y="2710" font-size="22.55" text-anchor="middle">Sphingomonas_sediminicola</text>
<text class="s" font-size="22.9" text-anchor="middle" transform="translate(1552.7 2451.45) rotate(-90)">Relative Abundance</text>
<line x1="1702.3" y1="2629.78" x2="1702.3" y2="2649.26" stroke="#000" stroke-width="2.1" stroke-linecap="butt"/>
<line x1="1683.4" y1="2629.78" x2="1721.2" y2="2629.78" stroke="#000" stroke-width="2.1" stroke-linecap="butt"/>
<line x1="1683.4" y1="2649.26" x2="1721.2" y2="2649.26" stroke="#000" stroke-width="2.1" stroke-linecap="butt"/>
<line x1="1815.35" y1="2324.08" x2="1815.35" y2="2502.29" stroke="#000" stroke-width="2.1" stroke-linecap="butt"/>
<line x1="1796.45" y1="2324.08" x2="1834.25" y2="2324.08" stroke="#000" stroke-width="2.1" stroke-linecap="butt"/>
<line x1="1796.45" y1="2502.29" x2="1834.25" y2="2502.29" stroke="#000" stroke-width="2.1" stroke-linecap="butt"/>
<line x1="1928.4" y1="2627.58" x2="1928.4" y2="2650.36" stroke="#000" stroke-width="2.1" stroke-linecap="butt"/>
<line x1="1909.5" y1="2627.58" x2="1947.3" y2="2627.58" stroke="#000" stroke-width="2.1" stroke-linecap="butt"/>
<line x1="1909.5" y1="2650.36" x2="1947.3" y2="2650.36" stroke="#000" stroke-width="2.1" stroke-linecap="butt"/>
<circle cx="1702.03" cy="2628.08" r="7.2" fill="none" stroke="#000" stroke-width="2.1"/>
<circle cx="1688.07" cy="2645.35" r="7.2" fill="none" stroke="#000" stroke-width="2.1"/>
<circle cx="1715.99" cy="2645.35" r="7.2" fill="none" stroke="#000" stroke-width="2.1"/>
<circle cx="1815.57" cy="2326.05" r="7.2" fill="none" stroke="#000" stroke-width="2.1"/>
<circle cx="1815.57" cy="2410.93" r="7.2" fill="none" stroke="#000" stroke-width="2.1"/>
<circle cx="1815.57" cy="2504.62" r="7.2" fill="none" stroke="#000" stroke-width="2.1"/>
<circle cx="1914.04" cy="2629.18" r="7.2" fill="none" stroke="#000" stroke-width="2.1"/>
<circle cx="1942.33" cy="2636.9" r="7.2" fill="none" stroke="#000" stroke-width="2.1"/>
<circle cx="1928.37" cy="2651.96" r="7.2" fill="none" stroke="#000" stroke-width="2.1"/>
<path d="M1702.3 2288.07V2257.21H1928.4V2288.07" fill="none" stroke="#000" stroke-width="2.1" stroke-linejoin="miter"/>
<path d="M1702.3 2615.45V2300.2H1811.4V2311.59" fill="none" stroke="#000" stroke-width="2.1" stroke-linejoin="miter"/>
<path d="M1819.3 2311.59V2300.2H1928.4V2615.45" fill="none" stroke="#000" stroke-width="2.1" stroke-linejoin="miter"/>
<text class="n" x="1815.35" y="2248" font-size="16" text-anchor="middle">ns</text>
<text class="st" x="1757.9" y="2296" font-size="18.5" text-anchor="middle" font-weight="bold" stroke="#000" stroke-width="0.45" letter-spacing="2.1">**</text>
<text class="st" x="1874.9" y="2296" font-size="18.5" text-anchor="middle" font-weight="bold" stroke="#000" stroke-width="0.45" letter-spacing="2.1">**</text>
</g>
</svg>
</body>
</html>
